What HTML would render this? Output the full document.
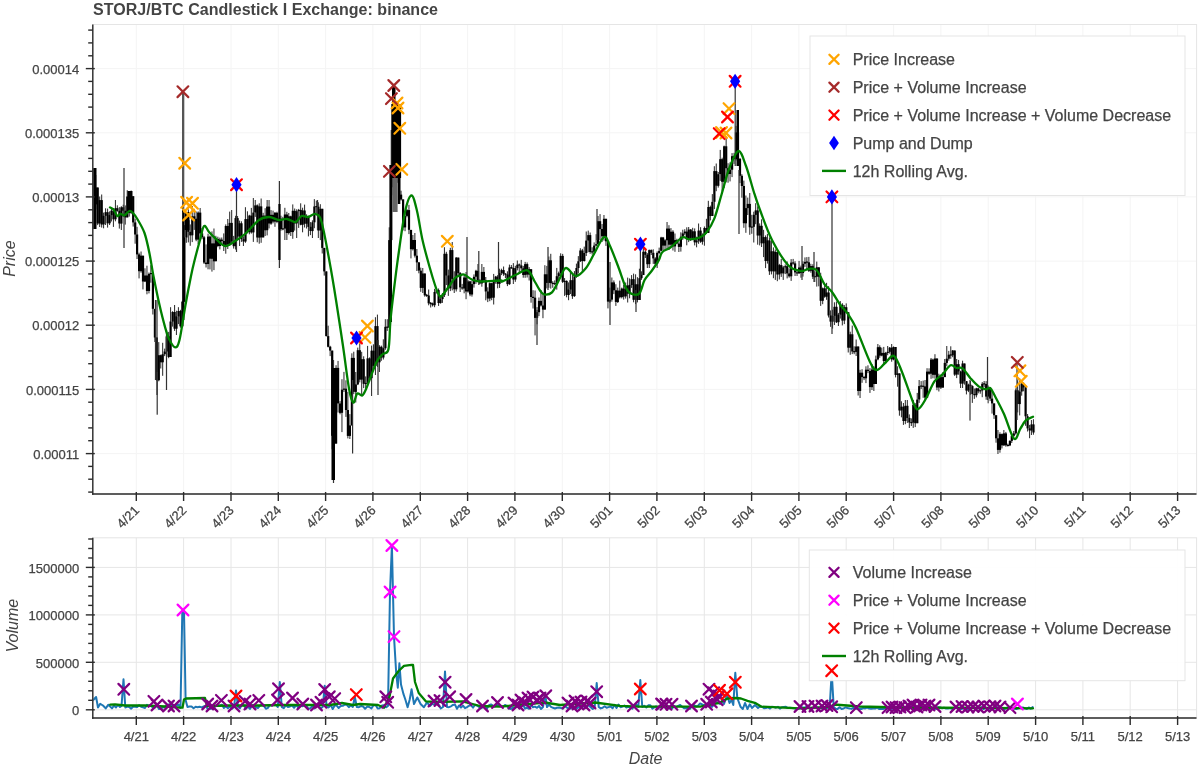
<!DOCTYPE html><html><head><meta charset="utf-8"><style>html,body{margin:0;padding:0;background:#fff;}svg{display:block;will-change:transform;filter:blur(0.3px)}</style></head><body>
<svg width="1200" height="767" viewBox="0 0 1200 767">
<rect width="1200" height="767" fill="#fff"/>
<text x="93" y="14.8" font-family="&quot;Liberation Sans&quot;, sans-serif" font-weight="bold" font-size="16" letter-spacing="0.03" fill="#444">STORJ/BTC Candlestick I Exchange: binance</text>
<g stroke="#f4f4f4" stroke-width="1">
<line x1="136.3" y1="24.5" x2="136.3" y2="494"/>
<line x1="183.6" y1="24.5" x2="183.6" y2="494"/>
<line x1="231" y1="24.5" x2="231" y2="494"/>
<line x1="278.3" y1="24.5" x2="278.3" y2="494"/>
<line x1="325.6" y1="24.5" x2="325.6" y2="494"/>
<line x1="372.9" y1="24.5" x2="372.9" y2="494"/>
<line x1="420.3" y1="24.5" x2="420.3" y2="494"/>
<line x1="467.6" y1="24.5" x2="467.6" y2="494"/>
<line x1="514.9" y1="24.5" x2="514.9" y2="494"/>
<line x1="562.3" y1="24.5" x2="562.3" y2="494"/>
<line x1="609.6" y1="24.5" x2="609.6" y2="494"/>
<line x1="656.9" y1="24.5" x2="656.9" y2="494"/>
<line x1="704.3" y1="24.5" x2="704.3" y2="494"/>
<line x1="751.6" y1="24.5" x2="751.6" y2="494"/>
<line x1="798.9" y1="24.5" x2="798.9" y2="494"/>
<line x1="846.2" y1="24.5" x2="846.2" y2="494"/>
<line x1="893.6" y1="24.5" x2="893.6" y2="494"/>
<line x1="940.9" y1="24.5" x2="940.9" y2="494"/>
<line x1="988.2" y1="24.5" x2="988.2" y2="494"/>
<line x1="1035.6" y1="24.5" x2="1035.6" y2="494"/>
<line x1="1082.9" y1="24.5" x2="1082.9" y2="494"/>
<line x1="1130.2" y1="24.5" x2="1130.2" y2="494"/>
<line x1="1177.6" y1="24.5" x2="1177.6" y2="494"/>
<line x1="92.8" y1="68.6" x2="1196.5" y2="68.6"/>
<line x1="92.8" y1="132.8" x2="1196.5" y2="132.8"/>
<line x1="92.8" y1="196.9" x2="1196.5" y2="196.9"/>
<line x1="92.8" y1="261.1" x2="1196.5" y2="261.1"/>
<line x1="92.8" y1="325.2" x2="1196.5" y2="325.2"/>
<line x1="92.8" y1="389.4" x2="1196.5" y2="389.4"/>
<line x1="92.8" y1="453.6" x2="1196.5" y2="453.6"/>
</g>
<g id="candles">
<rect x="93.2" y="200.8" width="1.1" height="8.1" fill="#3a3a3a"/>
<rect x="95.2" y="175" width="1.1" height="34.4" fill="#3a3a3a"/>
<rect x="97.1" y="187.5" width="1.1" height="37.6" fill="#3a3a3a"/>
<rect x="99.1" y="196.5" width="1.1" height="30.5" fill="#3a3a3a"/>
<rect x="101.1" y="194.5" width="1.1" height="33.1" fill="#3a3a3a"/>
<rect x="103" y="212.6" width="1.1" height="15.7" fill="#3a3a3a"/>
<rect x="105" y="208.3" width="1.1" height="16.7" fill="#3a3a3a"/>
<rect x="107" y="208.6" width="1.1" height="19" fill="#3a3a3a"/>
<rect x="109" y="211.4" width="1.1" height="13.6" fill="#3a3a3a"/>
<rect x="110.9" y="207.6" width="1.1" height="13.9" fill="#3a3a3a"/>
<rect x="112.9" y="208.1" width="1.1" height="18.8" fill="#3a3a3a"/>
<rect x="114.9" y="200" width="1.1" height="21.3" fill="#3a3a3a"/>
<rect x="116.8" y="205.3" width="1.1" height="6.4" fill="#3a3a3a"/>
<rect x="118.8" y="207.1" width="1.1" height="21.5" fill="#3a3a3a"/>
<rect x="120.8" y="206.2" width="1.1" height="23.8" fill="#3a3a3a"/>
<rect x="122.7" y="204.7" width="1.1" height="12.3" fill="#3a3a3a"/>
<rect x="124.7" y="205.4" width="1.1" height="19.2" fill="#3a3a3a"/>
<rect x="126.7" y="190.2" width="1.1" height="27.2" fill="#3a3a3a"/>
<rect x="128.7" y="194.4" width="1.1" height="22.2" fill="#3a3a3a"/>
<rect x="130.6" y="190.5" width="1.1" height="23.6" fill="#3a3a3a"/>
<rect x="132.6" y="196.2" width="1.1" height="30.4" fill="#3a3a3a"/>
<rect x="134.6" y="218.7" width="1.1" height="25" fill="#3a3a3a"/>
<rect x="136.5" y="226.8" width="1.1" height="32.2" fill="#3a3a3a"/>
<rect x="138.5" y="252.7" width="1.1" height="25.7" fill="#3a3a3a"/>
<rect x="140.5" y="251.5" width="1.1" height="21.2" fill="#3a3a3a"/>
<rect x="142.4" y="255.7" width="1.1" height="33.7" fill="#3a3a3a"/>
<rect x="144.4" y="268.3" width="1.1" height="13.8" fill="#3a3a3a"/>
<rect x="146.4" y="265.7" width="1.1" height="28.6" fill="#3a3a3a"/>
<rect x="148.4" y="272.5" width="1.1" height="20.9" fill="#3a3a3a"/>
<rect x="150.3" y="265.2" width="1.1" height="17.5" fill="#3a3a3a"/>
<rect x="152.3" y="273.3" width="1.1" height="41.2" fill="#3a3a3a"/>
<rect x="154.3" y="308.9" width="1.1" height="33.1" fill="#3a3a3a"/>
<rect x="156.2" y="337.5" width="1.1" height="43.2" fill="#3a3a3a"/>
<rect x="158.2" y="342.1" width="1.1" height="39.2" fill="#3a3a3a"/>
<rect x="160.2" y="354.6" width="1.1" height="13.9" fill="#3a3a3a"/>
<rect x="162.1" y="342.8" width="1.1" height="33" fill="#3a3a3a"/>
<rect x="164.1" y="348.6" width="1.1" height="7.5" fill="#3a3a3a"/>
<rect x="166.1" y="334" width="1.1" height="21.5" fill="#3a3a3a"/>
<rect x="168.1" y="331.9" width="1.1" height="26.3" fill="#3a3a3a"/>
<rect x="170" y="307.2" width="1.1" height="49.8" fill="#3a3a3a"/>
<rect x="172" y="311.2" width="1.1" height="15.4" fill="#3a3a3a"/>
<rect x="174" y="305" width="1.1" height="25.9" fill="#3a3a3a"/>
<rect x="175.9" y="310.7" width="1.1" height="24.3" fill="#3a3a3a"/>
<rect x="177.9" y="307.2" width="1.1" height="16.9" fill="#3a3a3a"/>
<rect x="179.9" y="309.8" width="1.1" height="17.9" fill="#3a3a3a"/>
<rect x="181.8" y="300.8" width="1.1" height="25.6" fill="#3a3a3a"/>
<rect x="183.8" y="225.1" width="1.1" height="76.6" fill="#3a3a3a"/>
<rect x="185.8" y="218.8" width="1.1" height="24" fill="#3a3a3a"/>
<rect x="187.8" y="209.4" width="1.1" height="33" fill="#3a3a3a"/>
<rect x="189.7" y="224.4" width="1.1" height="21.4" fill="#3a3a3a"/>
<rect x="191.7" y="206" width="1.1" height="36.1" fill="#3a3a3a"/>
<rect x="193.7" y="210.7" width="1.1" height="19.2" fill="#3a3a3a"/>
<rect x="195.6" y="211.5" width="1.1" height="29.7" fill="#3a3a3a"/>
<rect x="197.6" y="211.4" width="1.1" height="32.7" fill="#3a3a3a"/>
<rect x="199.6" y="208" width="1.1" height="32.8" fill="#3a3a3a"/>
<rect x="201.5" y="228" width="1.1" height="11.2" fill="#3a3a3a"/>
<rect x="203.5" y="235.9" width="1.1" height="28.1" fill="#3a3a3a"/>
<rect x="205.5" y="244.4" width="1.1" height="23.1" fill="#3a3a3a"/>
<rect x="207.5" y="233.7" width="1.1" height="35.6" fill="#3a3a3a"/>
<rect x="209.4" y="235.5" width="1.1" height="33.9" fill="#3a3a3a"/>
<rect x="211.4" y="231.4" width="1.1" height="40.2" fill="#3a3a3a"/>
<rect x="213.4" y="228.5" width="1.1" height="41.6" fill="#3a3a3a"/>
<rect x="215.3" y="235.8" width="1.1" height="25.5" fill="#3a3a3a"/>
<rect x="217.3" y="236.7" width="1.1" height="10.5" fill="#3a3a3a"/>
<rect x="219.3" y="237.6" width="1.1" height="11.8" fill="#3a3a3a"/>
<rect x="221.2" y="237.5" width="1.1" height="7" fill="#3a3a3a"/>
<rect x="223.2" y="233.4" width="1.1" height="17.6" fill="#3a3a3a"/>
<rect x="225.2" y="224.4" width="1.1" height="29.3" fill="#3a3a3a"/>
<rect x="227.2" y="219" width="1.1" height="30" fill="#3a3a3a"/>
<rect x="229.1" y="211.6" width="1.1" height="34.3" fill="#3a3a3a"/>
<rect x="231.1" y="210" width="1.1" height="34.3" fill="#3a3a3a"/>
<rect x="233.1" y="235.9" width="1.1" height="12.7" fill="#3a3a3a"/>
<rect x="235" y="215.8" width="1.1" height="33.7" fill="#3a3a3a"/>
<rect x="237" y="216" width="1.1" height="22.7" fill="#3a3a3a"/>
<rect x="239" y="220.6" width="1.1" height="25.4" fill="#3a3a3a"/>
<rect x="240.9" y="221.3" width="1.1" height="20.6" fill="#3a3a3a"/>
<rect x="242.9" y="236.4" width="1.1" height="9.6" fill="#3a3a3a"/>
<rect x="244.9" y="207.2" width="1.1" height="35.6" fill="#3a3a3a"/>
<rect x="246.9" y="211.3" width="1.1" height="22.1" fill="#3a3a3a"/>
<rect x="248.8" y="214.8" width="1.1" height="19.5" fill="#3a3a3a"/>
<rect x="250.8" y="207.9" width="1.1" height="25.7" fill="#3a3a3a"/>
<rect x="252.8" y="198" width="1.1" height="43.9" fill="#3a3a3a"/>
<rect x="254.7" y="200" width="1.1" height="16.9" fill="#3a3a3a"/>
<rect x="256.7" y="204.4" width="1.1" height="37.9" fill="#3a3a3a"/>
<rect x="258.7" y="203.3" width="1.1" height="40.4" fill="#3a3a3a"/>
<rect x="260.6" y="198.5" width="1.1" height="44.3" fill="#3a3a3a"/>
<rect x="262.6" y="212.8" width="1.1" height="24.6" fill="#3a3a3a"/>
<rect x="264.6" y="208.2" width="1.1" height="27.8" fill="#3a3a3a"/>
<rect x="266.6" y="200" width="1.1" height="35.4" fill="#3a3a3a"/>
<rect x="268.5" y="200" width="1.1" height="28.4" fill="#3a3a3a"/>
<rect x="270.5" y="210.1" width="1.1" height="14.7" fill="#3a3a3a"/>
<rect x="272.5" y="210.6" width="1.1" height="12.7" fill="#3a3a3a"/>
<rect x="274.4" y="212" width="1.1" height="14.8" fill="#3a3a3a"/>
<rect x="276.4" y="211.7" width="1.1" height="11.5" fill="#3a3a3a"/>
<rect x="278.4" y="217.4" width="1.1" height="12.2" fill="#3a3a3a"/>
<rect x="280.4" y="215.7" width="1.1" height="15" fill="#3a3a3a"/>
<rect x="282.3" y="216.8" width="1.1" height="13.5" fill="#3a3a3a"/>
<rect x="284.3" y="207.8" width="1.1" height="32.2" fill="#3a3a3a"/>
<rect x="286.3" y="211.8" width="1.1" height="28.2" fill="#3a3a3a"/>
<rect x="288.2" y="213" width="1.1" height="21.6" fill="#3a3a3a"/>
<rect x="290.2" y="215.7" width="1.1" height="20.3" fill="#3a3a3a"/>
<rect x="292.2" y="204.4" width="1.1" height="34.4" fill="#3a3a3a"/>
<rect x="294.1" y="208.5" width="1.1" height="22.1" fill="#3a3a3a"/>
<rect x="296.1" y="209.3" width="1.1" height="28.7" fill="#3a3a3a"/>
<rect x="298.1" y="208.9" width="1.1" height="19" fill="#3a3a3a"/>
<rect x="300.1" y="203.3" width="1.1" height="22" fill="#3a3a3a"/>
<rect x="302" y="207.7" width="1.1" height="24.6" fill="#3a3a3a"/>
<rect x="304" y="204.6" width="1.1" height="22.9" fill="#3a3a3a"/>
<rect x="306" y="214.3" width="1.1" height="14.2" fill="#3a3a3a"/>
<rect x="307.9" y="215.7" width="1.1" height="20.7" fill="#3a3a3a"/>
<rect x="309.9" y="222.1" width="1.1" height="13" fill="#3a3a3a"/>
<rect x="311.9" y="220.3" width="1.1" height="17.7" fill="#3a3a3a"/>
<rect x="313.8" y="199.1" width="1.1" height="29.1" fill="#3a3a3a"/>
<rect x="315.8" y="200.6" width="1.1" height="12.9" fill="#3a3a3a"/>
<rect x="317.8" y="202.3" width="1.1" height="35.7" fill="#3a3a3a"/>
<rect x="319.8" y="204.2" width="1.1" height="35.9" fill="#3a3a3a"/>
<rect x="321.7" y="208.8" width="1.1" height="44.7" fill="#3a3a3a"/>
<rect x="323.7" y="247.9" width="1.1" height="27.7" fill="#3a3a3a"/>
<rect x="325.7" y="271.4" width="1.1" height="65.2" fill="#3a3a3a"/>
<rect x="327.6" y="325.7" width="1.1" height="21.7" fill="#3a3a3a"/>
<rect x="329.6" y="345.8" width="1.1" height="10.3" fill="#3a3a3a"/>
<rect x="331.6" y="350.6" width="1.1" height="98.7" fill="#3a3a3a"/>
<rect x="333.5" y="418.4" width="1.1" height="26.4" fill="#3a3a3a"/>
<rect x="335.5" y="365.2" width="1.1" height="78.5" fill="#3a3a3a"/>
<rect x="337.5" y="360.9" width="1.1" height="51.6" fill="#3a3a3a"/>
<rect x="339.5" y="401.1" width="1.1" height="13.2" fill="#3a3a3a"/>
<rect x="341.4" y="379.2" width="1.1" height="52.9" fill="#3a3a3a"/>
<rect x="343.4" y="371.9" width="1.1" height="20.1" fill="#3a3a3a"/>
<rect x="345.4" y="380.3" width="1.1" height="36.6" fill="#3a3a3a"/>
<rect x="347.3" y="391.9" width="1.1" height="46.5" fill="#3a3a3a"/>
<rect x="349.3" y="414.1" width="1.1" height="24.9" fill="#3a3a3a"/>
<rect x="351.3" y="353.3" width="1.1" height="72.2" fill="#3a3a3a"/>
<rect x="353.2" y="351.7" width="1.1" height="42.4" fill="#3a3a3a"/>
<rect x="355.2" y="372" width="1.1" height="30.5" fill="#3a3a3a"/>
<rect x="357.2" y="347.6" width="1.1" height="37.5" fill="#3a3a3a"/>
<rect x="359.2" y="342.4" width="1.1" height="40" fill="#3a3a3a"/>
<rect x="361.1" y="351.8" width="1.1" height="44" fill="#3a3a3a"/>
<rect x="363.1" y="356.3" width="1.1" height="31.8" fill="#3a3a3a"/>
<rect x="365.1" y="376.4" width="1.1" height="12.5" fill="#3a3a3a"/>
<rect x="367" y="345.9" width="1.1" height="37.8" fill="#3a3a3a"/>
<rect x="369" y="357.4" width="1.1" height="24.1" fill="#3a3a3a"/>
<rect x="371" y="345.6" width="1.1" height="50.4" fill="#3a3a3a"/>
<rect x="372.9" y="344.3" width="1.1" height="22.5" fill="#3a3a3a"/>
<rect x="374.9" y="317.2" width="1.1" height="57.8" fill="#3a3a3a"/>
<rect x="376.9" y="314.6" width="1.1" height="52.4" fill="#3a3a3a"/>
<rect x="378.9" y="345.2" width="1.1" height="26.8" fill="#3a3a3a"/>
<rect x="380.8" y="345.6" width="1.1" height="15.2" fill="#3a3a3a"/>
<rect x="382.8" y="339.3" width="1.1" height="20.2" fill="#3a3a3a"/>
<rect x="384.8" y="319.2" width="1.1" height="30.6" fill="#3a3a3a"/>
<rect x="386.7" y="319.2" width="1.1" height="11.7" fill="#3a3a3a"/>
<rect x="388.7" y="227.3" width="1.1" height="100.3" fill="#3a3a3a"/>
<rect x="390.7" y="130" width="1.1" height="110.1" fill="#3a3a3a"/>
<rect x="392.6" y="142.8" width="1.1" height="52.5" fill="#3a3a3a"/>
<rect x="394.6" y="144.6" width="1.1" height="36.6" fill="#3a3a3a"/>
<rect x="396.6" y="139.5" width="1.1" height="43.3" fill="#3a3a3a"/>
<rect x="398.6" y="140.1" width="1.1" height="61.4" fill="#3a3a3a"/>
<rect x="400.5" y="190.7" width="1.1" height="9.9" fill="#3a3a3a"/>
<rect x="402.5" y="199.4" width="1.1" height="31.1" fill="#3a3a3a"/>
<rect x="404.5" y="211" width="1.1" height="20.2" fill="#3a3a3a"/>
<rect x="406.4" y="208.9" width="1.1" height="8.4" fill="#3a3a3a"/>
<rect x="408.4" y="204.8" width="1.1" height="29.3" fill="#3a3a3a"/>
<rect x="410.4" y="229.9" width="1.1" height="28.5" fill="#3a3a3a"/>
<rect x="412.3" y="235" width="1.1" height="15.5" fill="#3a3a3a"/>
<rect x="414.3" y="233" width="1.1" height="24.5" fill="#3a3a3a"/>
<rect x="416.3" y="249" width="1.1" height="22" fill="#3a3a3a"/>
<rect x="418.3" y="262" width="1.1" height="11.3" fill="#3a3a3a"/>
<rect x="420.2" y="267.6" width="1.1" height="24.2" fill="#3a3a3a"/>
<rect x="422.2" y="268" width="1.1" height="25" fill="#3a3a3a"/>
<rect x="424.2" y="273.5" width="1.1" height="23.2" fill="#3a3a3a"/>
<rect x="426.1" y="293.9" width="1.1" height="3" fill="#3a3a3a"/>
<rect x="428.1" y="289.5" width="1.1" height="15.8" fill="#3a3a3a"/>
<rect x="430.1" y="302" width="1.1" height="5.5" fill="#3a3a3a"/>
<rect x="432" y="302.6" width="1.1" height="3.9" fill="#3a3a3a"/>
<rect x="434" y="288.8" width="1.1" height="18.4" fill="#3a3a3a"/>
<rect x="436" y="289.4" width="1.1" height="4.1" fill="#3a3a3a"/>
<rect x="438" y="288.5" width="1.1" height="17.4" fill="#3a3a3a"/>
<rect x="439.9" y="295.3" width="1.1" height="8.3" fill="#3a3a3a"/>
<rect x="441.9" y="293" width="1.1" height="9.9" fill="#3a3a3a"/>
<rect x="443.9" y="247.2" width="1.1" height="49.8" fill="#3a3a3a"/>
<rect x="445.8" y="251.8" width="1.1" height="33.2" fill="#3a3a3a"/>
<rect x="447.8" y="269.6" width="1.1" height="26.3" fill="#3a3a3a"/>
<rect x="449.8" y="247.8" width="1.1" height="43.3" fill="#3a3a3a"/>
<rect x="451.7" y="242" width="1.1" height="48.4" fill="#3a3a3a"/>
<rect x="453.7" y="271.3" width="1.1" height="21.7" fill="#3a3a3a"/>
<rect x="455.7" y="257.1" width="1.1" height="34.4" fill="#3a3a3a"/>
<rect x="457.7" y="257.6" width="1.1" height="19.3" fill="#3a3a3a"/>
<rect x="459.6" y="272" width="1.1" height="20" fill="#3a3a3a"/>
<rect x="461.6" y="283.9" width="1.1" height="5.9" fill="#3a3a3a"/>
<rect x="463.6" y="274.9" width="1.1" height="18.4" fill="#3a3a3a"/>
<rect x="465.5" y="272" width="1.1" height="27.2" fill="#3a3a3a"/>
<rect x="467.5" y="280.1" width="1.1" height="12.6" fill="#3a3a3a"/>
<rect x="469.5" y="280.8" width="1.1" height="15.4" fill="#3a3a3a"/>
<rect x="471.4" y="280.5" width="1.1" height="16.1" fill="#3a3a3a"/>
<rect x="473.4" y="274.4" width="1.1" height="13.2" fill="#3a3a3a"/>
<rect x="475.4" y="269.8" width="1.1" height="14" fill="#3a3a3a"/>
<rect x="477.4" y="264" width="1.1" height="17.2" fill="#3a3a3a"/>
<rect x="479.3" y="279.2" width="1.1" height="5.1" fill="#3a3a3a"/>
<rect x="481.3" y="264" width="1.1" height="22.7" fill="#3a3a3a"/>
<rect x="483.3" y="267" width="1.1" height="15.9" fill="#3a3a3a"/>
<rect x="485.2" y="277" width="1.1" height="23.3" fill="#3a3a3a"/>
<rect x="487.2" y="287.3" width="1.1" height="14.8" fill="#3a3a3a"/>
<rect x="489.2" y="282.3" width="1.1" height="18.9" fill="#3a3a3a"/>
<rect x="491.1" y="282.7" width="1.1" height="17.5" fill="#3a3a3a"/>
<rect x="493.1" y="273.9" width="1.1" height="30.6" fill="#3a3a3a"/>
<rect x="495.1" y="275.9" width="1.1" height="7.8" fill="#3a3a3a"/>
<rect x="497.1" y="275.1" width="1.1" height="13.2" fill="#3a3a3a"/>
<rect x="499" y="268.7" width="1.1" height="19.2" fill="#3a3a3a"/>
<rect x="501" y="268.7" width="1.1" height="6.4" fill="#3a3a3a"/>
<rect x="503" y="266.5" width="1.1" height="9.3" fill="#3a3a3a"/>
<rect x="504.9" y="273.1" width="1.1" height="4.9" fill="#3a3a3a"/>
<rect x="506.9" y="271.3" width="1.1" height="14.8" fill="#3a3a3a"/>
<rect x="508.9" y="264.6" width="1.1" height="20.2" fill="#3a3a3a"/>
<rect x="510.8" y="265" width="1.1" height="3.9" fill="#3a3a3a"/>
<rect x="512.8" y="263.1" width="1.1" height="20.9" fill="#3a3a3a"/>
<rect x="514.8" y="265.8" width="1.1" height="16" fill="#3a3a3a"/>
<rect x="516.8" y="260.5" width="1.1" height="9.9" fill="#3a3a3a"/>
<rect x="518.7" y="263.5" width="1.1" height="10.1" fill="#3a3a3a"/>
<rect x="520.7" y="259.9" width="1.1" height="12.2" fill="#3a3a3a"/>
<rect x="522.7" y="265.9" width="1.1" height="11.8" fill="#3a3a3a"/>
<rect x="524.6" y="261.9" width="1.1" height="15.9" fill="#3a3a3a"/>
<rect x="526.6" y="262.4" width="1.1" height="15.1" fill="#3a3a3a"/>
<rect x="528.6" y="267.1" width="1.1" height="13.4" fill="#3a3a3a"/>
<rect x="530.5" y="269.2" width="1.1" height="33.5" fill="#3a3a3a"/>
<rect x="532.5" y="290.2" width="1.1" height="18.3" fill="#3a3a3a"/>
<rect x="534.5" y="290.5" width="1.1" height="44.9" fill="#3a3a3a"/>
<rect x="536.5" y="307.1" width="1.1" height="17.2" fill="#3a3a3a"/>
<rect x="538.4" y="297.5" width="1.1" height="18.6" fill="#3a3a3a"/>
<rect x="540.4" y="290" width="1.1" height="16.5" fill="#3a3a3a"/>
<rect x="542.4" y="292.9" width="1.1" height="25.3" fill="#3a3a3a"/>
<rect x="544.3" y="265.2" width="1.1" height="44.4" fill="#3a3a3a"/>
<rect x="546.3" y="265.9" width="1.1" height="22.5" fill="#3a3a3a"/>
<rect x="548.3" y="256.5" width="1.1" height="31.3" fill="#3a3a3a"/>
<rect x="550.2" y="253.8" width="1.1" height="34.8" fill="#3a3a3a"/>
<rect x="552.2" y="281.2" width="1.1" height="6.6" fill="#3a3a3a"/>
<rect x="554.2" y="280.4" width="1.1" height="4.7" fill="#3a3a3a"/>
<rect x="556.2" y="267.9" width="1.1" height="21.7" fill="#3a3a3a"/>
<rect x="558.1" y="271.6" width="1.1" height="9.7" fill="#3a3a3a"/>
<rect x="560.1" y="253.3" width="1.1" height="24.1" fill="#3a3a3a"/>
<rect x="562.1" y="253.9" width="1.1" height="29.1" fill="#3a3a3a"/>
<rect x="564" y="278.1" width="1.1" height="17.8" fill="#3a3a3a"/>
<rect x="566" y="280.4" width="1.1" height="16.9" fill="#3a3a3a"/>
<rect x="568" y="282.4" width="1.1" height="17.8" fill="#3a3a3a"/>
<rect x="569.9" y="272.3" width="1.1" height="21.7" fill="#3a3a3a"/>
<rect x="571.9" y="273.2" width="1.1" height="25.7" fill="#3a3a3a"/>
<rect x="573.9" y="271.1" width="1.1" height="25.8" fill="#3a3a3a"/>
<rect x="575.9" y="263.6" width="1.1" height="14.2" fill="#3a3a3a"/>
<rect x="577.8" y="256.1" width="1.1" height="17.3" fill="#3a3a3a"/>
<rect x="579.8" y="248.2" width="1.1" height="13.8" fill="#3a3a3a"/>
<rect x="581.8" y="248.9" width="1.1" height="23.7" fill="#3a3a3a"/>
<rect x="583.7" y="246.6" width="1.1" height="15" fill="#3a3a3a"/>
<rect x="585.7" y="231.5" width="1.1" height="24.5" fill="#3a3a3a"/>
<rect x="587.7" y="230.6" width="1.1" height="21.6" fill="#3a3a3a"/>
<rect x="589.6" y="232.5" width="1.1" height="21.3" fill="#3a3a3a"/>
<rect x="591.6" y="247.3" width="1.1" height="7.3" fill="#3a3a3a"/>
<rect x="593.6" y="242.4" width="1.1" height="11.9" fill="#3a3a3a"/>
<rect x="595.6" y="234.2" width="1.1" height="12.1" fill="#3a3a3a"/>
<rect x="597.5" y="216" width="1.1" height="28.2" fill="#3a3a3a"/>
<rect x="599.5" y="214.1" width="1.1" height="25.9" fill="#3a3a3a"/>
<rect x="601.5" y="224" width="1.1" height="18" fill="#3a3a3a"/>
<rect x="603.4" y="215" width="1.1" height="25.6" fill="#3a3a3a"/>
<rect x="605.4" y="218.8" width="1.1" height="27.1" fill="#3a3a3a"/>
<rect x="607.4" y="241.2" width="1.1" height="67.2" fill="#3a3a3a"/>
<rect x="609.3" y="287.6" width="1.1" height="15.2" fill="#3a3a3a"/>
<rect x="611.3" y="277.5" width="1.1" height="24.2" fill="#3a3a3a"/>
<rect x="613.3" y="280.4" width="1.1" height="13.7" fill="#3a3a3a"/>
<rect x="615.3" y="284.2" width="1.1" height="21.7" fill="#3a3a3a"/>
<rect x="617.2" y="287.6" width="1.1" height="15.4" fill="#3a3a3a"/>
<rect x="619.2" y="280.6" width="1.1" height="17.8" fill="#3a3a3a"/>
<rect x="621.2" y="287.6" width="1.1" height="10.8" fill="#3a3a3a"/>
<rect x="623.1" y="284.8" width="1.1" height="14.8" fill="#3a3a3a"/>
<rect x="625.1" y="282.5" width="1.1" height="16.1" fill="#3a3a3a"/>
<rect x="627.1" y="277.6" width="1.1" height="24.9" fill="#3a3a3a"/>
<rect x="629" y="278.4" width="1.1" height="19.9" fill="#3a3a3a"/>
<rect x="631" y="275.1" width="1.1" height="12.8" fill="#3a3a3a"/>
<rect x="633" y="273.6" width="1.1" height="28.7" fill="#3a3a3a"/>
<rect x="635" y="274.3" width="1.1" height="29.8" fill="#3a3a3a"/>
<rect x="636.9" y="277.2" width="1.1" height="25.2" fill="#3a3a3a"/>
<rect x="638.9" y="268.7" width="1.1" height="31.3" fill="#3a3a3a"/>
<rect x="640.9" y="271.3" width="1.1" height="8.6" fill="#3a3a3a"/>
<rect x="642.8" y="246.2" width="1.1" height="28.7" fill="#3a3a3a"/>
<rect x="644.8" y="250.2" width="1.1" height="7.8" fill="#3a3a3a"/>
<rect x="646.8" y="253.1" width="1.1" height="14.9" fill="#3a3a3a"/>
<rect x="648.7" y="249.5" width="1.1" height="18.5" fill="#3a3a3a"/>
<rect x="650.7" y="249.4" width="1.1" height="5.6" fill="#3a3a3a"/>
<rect x="652.7" y="249.3" width="1.1" height="14.6" fill="#3a3a3a"/>
<rect x="654.7" y="257.2" width="1.1" height="9.8" fill="#3a3a3a"/>
<rect x="656.6" y="251.4" width="1.1" height="16.6" fill="#3a3a3a"/>
<rect x="658.6" y="247.6" width="1.1" height="6.5" fill="#3a3a3a"/>
<rect x="660.6" y="236.8" width="1.1" height="14.1" fill="#3a3a3a"/>
<rect x="662.5" y="236.9" width="1.1" height="13.1" fill="#3a3a3a"/>
<rect x="664.5" y="239.1" width="1.1" height="10.9" fill="#3a3a3a"/>
<rect x="666.5" y="222" width="1.1" height="28" fill="#3a3a3a"/>
<rect x="668.4" y="225.2" width="1.1" height="24.8" fill="#3a3a3a"/>
<rect x="670.4" y="228.1" width="1.1" height="18.6" fill="#3a3a3a"/>
<rect x="672.4" y="230.2" width="1.1" height="20.3" fill="#3a3a3a"/>
<rect x="674.4" y="233.5" width="1.1" height="18.3" fill="#3a3a3a"/>
<rect x="676.3" y="238.7" width="1.1" height="5.6" fill="#3a3a3a"/>
<rect x="678.3" y="241.3" width="1.1" height="10.7" fill="#3a3a3a"/>
<rect x="680.3" y="232.3" width="1.1" height="19.3" fill="#3a3a3a"/>
<rect x="682.2" y="229.7" width="1.1" height="10.2" fill="#3a3a3a"/>
<rect x="684.2" y="229.2" width="1.1" height="6.1" fill="#3a3a3a"/>
<rect x="686.2" y="227.3" width="1.1" height="18" fill="#3a3a3a"/>
<rect x="688.1" y="227" width="1.1" height="15.1" fill="#3a3a3a"/>
<rect x="690.1" y="229" width="1.1" height="12" fill="#3a3a3a"/>
<rect x="692.1" y="227.8" width="1.1" height="11" fill="#3a3a3a"/>
<rect x="694.1" y="228.4" width="1.1" height="17" fill="#3a3a3a"/>
<rect x="696" y="236.7" width="1.1" height="10.6" fill="#3a3a3a"/>
<rect x="698" y="223.5" width="1.1" height="20.3" fill="#3a3a3a"/>
<rect x="700" y="227.2" width="1.1" height="15.6" fill="#3a3a3a"/>
<rect x="701.9" y="233.4" width="1.1" height="11.2" fill="#3a3a3a"/>
<rect x="703.9" y="226.5" width="1.1" height="19.2" fill="#3a3a3a"/>
<rect x="705.9" y="218.8" width="1.1" height="15" fill="#3a3a3a"/>
<rect x="707.8" y="200.8" width="1.1" height="32.1" fill="#3a3a3a"/>
<rect x="709.8" y="205.6" width="1.1" height="14.8" fill="#3a3a3a"/>
<rect x="711.8" y="194.1" width="1.1" height="21.8" fill="#3a3a3a"/>
<rect x="713.8" y="166.2" width="1.1" height="42.9" fill="#3a3a3a"/>
<rect x="715.7" y="163.5" width="1.1" height="27.7" fill="#3a3a3a"/>
<rect x="717.7" y="172" width="1.1" height="15.6" fill="#3a3a3a"/>
<rect x="719.7" y="149.9" width="1.1" height="31" fill="#3a3a3a"/>
<rect x="721.6" y="157.7" width="1.1" height="33.8" fill="#3a3a3a"/>
<rect x="723.6" y="145.6" width="1.1" height="42.3" fill="#3a3a3a"/>
<rect x="725.6" y="136.5" width="1.1" height="45.9" fill="#3a3a3a"/>
<rect x="727.5" y="163.2" width="1.1" height="19.5" fill="#3a3a3a"/>
<rect x="729.5" y="162.3" width="1.1" height="19.1" fill="#3a3a3a"/>
<rect x="731.5" y="153.1" width="1.1" height="24" fill="#3a3a3a"/>
<rect x="733.5" y="152.8" width="1.1" height="11.1" fill="#3a3a3a"/>
<rect x="735.4" y="125.9" width="1.1" height="34.6" fill="#3a3a3a"/>
<rect x="737.4" y="111.5" width="1.1" height="50.9" fill="#3a3a3a"/>
<rect x="739.4" y="158.6" width="1.1" height="24.5" fill="#3a3a3a"/>
<rect x="741.3" y="174.2" width="1.1" height="23.5" fill="#3a3a3a"/>
<rect x="743.3" y="180.6" width="1.1" height="47.2" fill="#3a3a3a"/>
<rect x="745.3" y="195.5" width="1.1" height="37.3" fill="#3a3a3a"/>
<rect x="747.2" y="197.6" width="1.1" height="17.4" fill="#3a3a3a"/>
<rect x="749.2" y="193" width="1.1" height="41.8" fill="#3a3a3a"/>
<rect x="751.2" y="214.8" width="1.1" height="19" fill="#3a3a3a"/>
<rect x="753.2" y="211.7" width="1.1" height="30.8" fill="#3a3a3a"/>
<rect x="755.1" y="203.2" width="1.1" height="21" fill="#3a3a3a"/>
<rect x="757.1" y="206.3" width="1.1" height="38.4" fill="#3a3a3a"/>
<rect x="759.1" y="223.4" width="1.1" height="22" fill="#3a3a3a"/>
<rect x="761" y="219.3" width="1.1" height="27.7" fill="#3a3a3a"/>
<rect x="763" y="229.8" width="1.1" height="27.3" fill="#3a3a3a"/>
<rect x="765" y="235.4" width="1.1" height="32.7" fill="#3a3a3a"/>
<rect x="766.9" y="233.9" width="1.1" height="29.7" fill="#3a3a3a"/>
<rect x="768.9" y="237.4" width="1.1" height="37.5" fill="#3a3a3a"/>
<rect x="770.9" y="241" width="1.1" height="33.4" fill="#3a3a3a"/>
<rect x="772.9" y="247.4" width="1.1" height="30.8" fill="#3a3a3a"/>
<rect x="774.8" y="249.4" width="1.1" height="30.5" fill="#3a3a3a"/>
<rect x="776.8" y="249.7" width="1.1" height="31.5" fill="#3a3a3a"/>
<rect x="778.8" y="263.9" width="1.1" height="15.6" fill="#3a3a3a"/>
<rect x="780.7" y="259" width="1.1" height="17.9" fill="#3a3a3a"/>
<rect x="782.7" y="265.9" width="1.1" height="14" fill="#3a3a3a"/>
<rect x="784.7" y="264.4" width="1.1" height="9.7" fill="#3a3a3a"/>
<rect x="786.6" y="261.4" width="1.1" height="17" fill="#3a3a3a"/>
<rect x="788.6" y="268.3" width="1.1" height="9.3" fill="#3a3a3a"/>
<rect x="790.6" y="259.1" width="1.1" height="21.8" fill="#3a3a3a"/>
<rect x="792.6" y="258.9" width="1.1" height="5.8" fill="#3a3a3a"/>
<rect x="794.5" y="261.2" width="1.1" height="14.8" fill="#3a3a3a"/>
<rect x="796.5" y="269.7" width="1.1" height="6.3" fill="#3a3a3a"/>
<rect x="798.5" y="260.9" width="1.1" height="13" fill="#3a3a3a"/>
<rect x="800.4" y="265.6" width="1.1" height="12.1" fill="#3a3a3a"/>
<rect x="802.4" y="261.3" width="1.1" height="15.3" fill="#3a3a3a"/>
<rect x="804.4" y="257.4" width="1.1" height="9.5" fill="#3a3a3a"/>
<rect x="806.3" y="257.1" width="1.1" height="11.9" fill="#3a3a3a"/>
<rect x="808.3" y="256.9" width="1.1" height="15.1" fill="#3a3a3a"/>
<rect x="810.3" y="263.8" width="1.1" height="8.9" fill="#3a3a3a"/>
<rect x="812.3" y="264.2" width="1.1" height="14.8" fill="#3a3a3a"/>
<rect x="814.2" y="271.3" width="1.1" height="10.7" fill="#3a3a3a"/>
<rect x="816.2" y="261.6" width="1.1" height="25" fill="#3a3a3a"/>
<rect x="818.2" y="267.3" width="1.1" height="19" fill="#3a3a3a"/>
<rect x="820.1" y="272.7" width="1.1" height="33.2" fill="#3a3a3a"/>
<rect x="822.1" y="287.5" width="1.1" height="16.7" fill="#3a3a3a"/>
<rect x="824.1" y="285.1" width="1.1" height="12.7" fill="#3a3a3a"/>
<rect x="826" y="282.8" width="1.1" height="17" fill="#3a3a3a"/>
<rect x="828" y="286.2" width="1.1" height="31.3" fill="#3a3a3a"/>
<rect x="830" y="310.4" width="1.1" height="16.4" fill="#3a3a3a"/>
<rect x="832" y="309.7" width="1.1" height="18.9" fill="#3a3a3a"/>
<rect x="833.9" y="302.3" width="1.1" height="22.7" fill="#3a3a3a"/>
<rect x="835.9" y="301.5" width="1.1" height="21.5" fill="#3a3a3a"/>
<rect x="837.9" y="312.9" width="1.1" height="13.1" fill="#3a3a3a"/>
<rect x="839.8" y="301.1" width="1.1" height="17.5" fill="#3a3a3a"/>
<rect x="841.8" y="303.2" width="1.1" height="22.2" fill="#3a3a3a"/>
<rect x="843.8" y="305.1" width="1.1" height="19" fill="#3a3a3a"/>
<rect x="845.7" y="303.4" width="1.1" height="9.4" fill="#3a3a3a"/>
<rect x="847.7" y="312.2" width="1.1" height="40.3" fill="#3a3a3a"/>
<rect x="849.7" y="331.7" width="1.1" height="23.1" fill="#3a3a3a"/>
<rect x="851.7" y="325.6" width="1.1" height="28.5" fill="#3a3a3a"/>
<rect x="853.6" y="346.3" width="1.1" height="7.9" fill="#3a3a3a"/>
<rect x="855.6" y="339.5" width="1.1" height="16.5" fill="#3a3a3a"/>
<rect x="857.6" y="346.5" width="1.1" height="49" fill="#3a3a3a"/>
<rect x="859.5" y="369.8" width="1.1" height="28.2" fill="#3a3a3a"/>
<rect x="861.5" y="369.2" width="1.1" height="13.6" fill="#3a3a3a"/>
<rect x="863.5" y="375.9" width="1.1" height="4.2" fill="#3a3a3a"/>
<rect x="865.4" y="366.3" width="1.1" height="16.8" fill="#3a3a3a"/>
<rect x="867.4" y="365.3" width="1.1" height="7.8" fill="#3a3a3a"/>
<rect x="869.4" y="368.1" width="1.1" height="24.8" fill="#3a3a3a"/>
<rect x="871.4" y="364" width="1.1" height="26" fill="#3a3a3a"/>
<rect x="873.3" y="366.3" width="1.1" height="24.7" fill="#3a3a3a"/>
<rect x="875.3" y="355.6" width="1.1" height="28.3" fill="#3a3a3a"/>
<rect x="877.3" y="344" width="1.1" height="16.3" fill="#3a3a3a"/>
<rect x="879.2" y="345.3" width="1.1" height="12.5" fill="#3a3a3a"/>
<rect x="881.2" y="347.6" width="1.1" height="8.7" fill="#3a3a3a"/>
<rect x="883.2" y="346.9" width="1.1" height="17.1" fill="#3a3a3a"/>
<rect x="885.1" y="351.9" width="1.1" height="11.9" fill="#3a3a3a"/>
<rect x="887.1" y="346" width="1.1" height="9.2" fill="#3a3a3a"/>
<rect x="889.1" y="347" width="1.1" height="6.6" fill="#3a3a3a"/>
<rect x="891.1" y="344" width="1.1" height="17.7" fill="#3a3a3a"/>
<rect x="893" y="346.4" width="1.1" height="13.9" fill="#3a3a3a"/>
<rect x="895" y="347" width="1.1" height="30.4" fill="#3a3a3a"/>
<rect x="897" y="366.3" width="1.1" height="20.4" fill="#3a3a3a"/>
<rect x="898.9" y="373.4" width="1.1" height="42.3" fill="#3a3a3a"/>
<rect x="900.9" y="401.3" width="1.1" height="16" fill="#3a3a3a"/>
<rect x="902.9" y="403" width="1.1" height="21.9" fill="#3a3a3a"/>
<rect x="904.8" y="400" width="1.1" height="24.2" fill="#3a3a3a"/>
<rect x="906.8" y="400" width="1.1" height="22.9" fill="#3a3a3a"/>
<rect x="908.8" y="414.4" width="1.1" height="13.6" fill="#3a3a3a"/>
<rect x="910.8" y="418.4" width="1.1" height="7.6" fill="#3a3a3a"/>
<rect x="912.7" y="400" width="1.1" height="27.9" fill="#3a3a3a"/>
<rect x="914.7" y="403.1" width="1.1" height="24" fill="#3a3a3a"/>
<rect x="916.7" y="392.9" width="1.1" height="30.3" fill="#3a3a3a"/>
<rect x="918.6" y="380" width="1.1" height="22.9" fill="#3a3a3a"/>
<rect x="920.6" y="381.1" width="1.1" height="7.9" fill="#3a3a3a"/>
<rect x="922.6" y="380.6" width="1.1" height="17.2" fill="#3a3a3a"/>
<rect x="924.5" y="380" width="1.1" height="21.1" fill="#3a3a3a"/>
<rect x="926.5" y="368.2" width="1.1" height="29.5" fill="#3a3a3a"/>
<rect x="928.5" y="368.3" width="1.1" height="6.5" fill="#3a3a3a"/>
<rect x="930.5" y="358" width="1.1" height="20.8" fill="#3a3a3a"/>
<rect x="932.4" y="358.7" width="1.1" height="19.6" fill="#3a3a3a"/>
<rect x="934.4" y="354.2" width="1.1" height="24.5" fill="#3a3a3a"/>
<rect x="936.4" y="358.5" width="1.1" height="31.7" fill="#3a3a3a"/>
<rect x="938.3" y="373.7" width="1.1" height="17.8" fill="#3a3a3a"/>
<rect x="940.3" y="376" width="1.1" height="13" fill="#3a3a3a"/>
<rect x="942.3" y="372.2" width="1.1" height="15.4" fill="#3a3a3a"/>
<rect x="944.2" y="359" width="1.1" height="18.1" fill="#3a3a3a"/>
<rect x="946.2" y="346" width="1.1" height="20.3" fill="#3a3a3a"/>
<rect x="948.2" y="350.9" width="1.1" height="9.8" fill="#3a3a3a"/>
<rect x="950.2" y="346.3" width="1.1" height="12.5" fill="#3a3a3a"/>
<rect x="952.1" y="350" width="1.1" height="7.2" fill="#3a3a3a"/>
<rect x="954.1" y="350.5" width="1.1" height="25.4" fill="#3a3a3a"/>
<rect x="956.1" y="359" width="1.1" height="19.1" fill="#3a3a3a"/>
<rect x="958" y="359.9" width="1.1" height="14.8" fill="#3a3a3a"/>
<rect x="960" y="370.7" width="1.1" height="17.3" fill="#3a3a3a"/>
<rect x="962" y="360.7" width="1.1" height="27.3" fill="#3a3a3a"/>
<rect x="963.9" y="363.5" width="1.1" height="21.1" fill="#3a3a3a"/>
<rect x="965.9" y="381" width="1.1" height="13.4" fill="#3a3a3a"/>
<rect x="967.9" y="383.7" width="1.1" height="8.4" fill="#3a3a3a"/>
<rect x="969.9" y="381" width="1.1" height="13.7" fill="#3a3a3a"/>
<rect x="971.8" y="385.3" width="1.1" height="17.6" fill="#3a3a3a"/>
<rect x="973.8" y="388.5" width="1.1" height="10.4" fill="#3a3a3a"/>
<rect x="975.8" y="387.8" width="1.1" height="9.6" fill="#3a3a3a"/>
<rect x="977.7" y="387.8" width="1.1" height="5.5" fill="#3a3a3a"/>
<rect x="979.7" y="389.4" width="1.1" height="4.3" fill="#3a3a3a"/>
<rect x="981.7" y="382.1" width="1.1" height="15.1" fill="#3a3a3a"/>
<rect x="983.6" y="381" width="1.1" height="6.2" fill="#3a3a3a"/>
<rect x="985.6" y="381.1" width="1.1" height="18.6" fill="#3a3a3a"/>
<rect x="987.6" y="385.5" width="1.1" height="17.8" fill="#3a3a3a"/>
<rect x="989.6" y="388.2" width="1.1" height="12.9" fill="#3a3a3a"/>
<rect x="991.5" y="390.5" width="1.1" height="23.1" fill="#3a3a3a"/>
<rect x="993.5" y="403.4" width="1.1" height="15.5" fill="#3a3a3a"/>
<rect x="995.5" y="415.2" width="1.1" height="27.5" fill="#3a3a3a"/>
<rect x="997.4" y="430" width="1.1" height="24" fill="#3a3a3a"/>
<rect x="999.4" y="432.3" width="1.1" height="20.4" fill="#3a3a3a"/>
<rect x="1001.4" y="433.5" width="1.1" height="14.9" fill="#3a3a3a"/>
<rect x="1003.3" y="430" width="1.1" height="15.9" fill="#3a3a3a"/>
<rect x="1005.3" y="431.9" width="1.1" height="14.8" fill="#3a3a3a"/>
<rect x="1007.3" y="443.6" width="1.1" height="3" fill="#3a3a3a"/>
<rect x="1009.3" y="440.3" width="1.1" height="5.8" fill="#3a3a3a"/>
<rect x="1011.2" y="433.7" width="1.1" height="9.3" fill="#3a3a3a"/>
<rect x="1013.2" y="431" width="1.1" height="6.3" fill="#3a3a3a"/>
<rect x="1015.2" y="388.4" width="1.1" height="46.2" fill="#3a3a3a"/>
<rect x="1017.1" y="380.3" width="1.1" height="32.1" fill="#3a3a3a"/>
<rect x="1019.1" y="378.4" width="1.1" height="37" fill="#3a3a3a"/>
<rect x="1021.1" y="382.1" width="1.1" height="13.6" fill="#3a3a3a"/>
<rect x="1023" y="382.6" width="1.1" height="8.7" fill="#3a3a3a"/>
<rect x="1025" y="387.3" width="1.1" height="38.5" fill="#3a3a3a"/>
<rect x="1027" y="414" width="1.1" height="17.5" fill="#3a3a3a"/>
<rect x="1029" y="424.9" width="1.1" height="13.3" fill="#3a3a3a"/>
<rect x="1030.9" y="420" width="1.1" height="15" fill="#3a3a3a"/>
<rect x="1032.9" y="419.2" width="1.1" height="15.5" fill="#3a3a3a"/>
<rect x="92.7" y="203.8" width="2.2" height="1.2" fill="#000"/>
<rect x="94.7" y="187.5" width="2.2" height="16.9" fill="#000"/>
<rect x="96.6" y="187.5" width="2.2" height="36" fill="#000"/>
<rect x="98.6" y="200.1" width="2.2" height="23.4" fill="#000"/>
<rect x="100.6" y="200.1" width="2.2" height="24.4" fill="#000"/>
<rect x="102.5" y="215.8" width="2.2" height="8.6" fill="#000"/>
<rect x="104.5" y="212.2" width="2.2" height="3.6" fill="#000"/>
<rect x="106.5" y="212.2" width="2.2" height="11.1" fill="#000"/>
<rect x="108.5" y="215.1" width="2.2" height="8.2" fill="#000"/>
<rect x="110.4" y="210.7" width="2.2" height="4.4" fill="#000"/>
<rect x="112.4" y="210.7" width="2.2" height="8.6" fill="#000"/>
<rect x="114.4" y="208.2" width="2.2" height="11.1" fill="#000"/>
<rect x="116.3" y="208.2" width="2.2" height="2.7" fill="#000"/>
<rect x="118.3" y="210.8" width="2.2" height="12.7" fill="#000"/>
<rect x="120.3" y="207.3" width="2.2" height="16.3" fill="#000"/>
<rect x="122.2" y="207.3" width="2.2" height="3.4" fill="#000"/>
<rect x="124.2" y="210.7" width="2.2" height="6.7" fill="#000"/>
<rect x="126.2" y="196.5" width="2.2" height="20.9" fill="#000"/>
<rect x="128.2" y="196.5" width="2.2" height="16.4" fill="#000"/>
<rect x="130.1" y="196.2" width="2.2" height="16.6" fill="#000"/>
<rect x="132.1" y="196.2" width="2.2" height="26.2" fill="#000"/>
<rect x="134.1" y="222.4" width="2.2" height="12.1" fill="#000"/>
<rect x="136" y="234.5" width="2.2" height="19.9" fill="#000"/>
<rect x="138" y="254.4" width="2.2" height="16.8" fill="#000"/>
<rect x="140" y="255.7" width="2.2" height="15.5" fill="#000"/>
<rect x="141.9" y="255.7" width="2.2" height="25.8" fill="#000"/>
<rect x="143.9" y="275.5" width="2.2" height="6" fill="#000"/>
<rect x="145.9" y="275.5" width="2.2" height="15.5" fill="#000"/>
<rect x="147.9" y="273.9" width="2.2" height="17.1" fill="#000"/>
<rect x="149.8" y="273" width="2.2" height="1.2" fill="#000"/>
<rect x="151.8" y="273.3" width="2.2" height="35.5" fill="#000"/>
<rect x="153.8" y="308.9" width="2.2" height="28.6" fill="#000"/>
<rect x="155.7" y="337.5" width="2.2" height="42.6" fill="#000"/>
<rect x="157.7" y="355.2" width="2.2" height="25" fill="#000"/>
<rect x="159.7" y="355.2" width="2.2" height="7.1" fill="#000"/>
<rect x="161.6" y="354.2" width="2.2" height="8.1" fill="#000"/>
<rect x="163.6" y="351.5" width="2.2" height="2.7" fill="#000"/>
<rect x="165.6" y="336.4" width="2.2" height="15.1" fill="#000"/>
<rect x="167.6" y="336.4" width="2.2" height="20.6" fill="#000"/>
<rect x="169.5" y="321.5" width="2.2" height="35.5" fill="#000"/>
<rect x="171.5" y="312" width="2.2" height="9.5" fill="#000"/>
<rect x="173.5" y="312" width="2.2" height="16.7" fill="#000"/>
<rect x="175.4" y="316.4" width="2.2" height="12.3" fill="#000"/>
<rect x="177.4" y="311" width="2.2" height="5.4" fill="#000"/>
<rect x="179.4" y="311" width="2.2" height="15.3" fill="#000"/>
<rect x="181.3" y="301.7" width="2.2" height="24.6" fill="#000"/>
<rect x="183.3" y="237.5" width="2.2" height="64.2" fill="#000"/>
<rect x="185.3" y="220.2" width="2.2" height="17.3" fill="#000"/>
<rect x="187.3" y="220.2" width="2.2" height="11.6" fill="#000"/>
<rect x="189.2" y="231.8" width="2.2" height="3.6" fill="#000"/>
<rect x="191.2" y="216.3" width="2.2" height="19" fill="#000"/>
<rect x="193.2" y="216.3" width="2.2" height="2.4" fill="#000"/>
<rect x="195.1" y="218.7" width="2.2" height="20.9" fill="#000"/>
<rect x="197.1" y="212.6" width="2.2" height="27" fill="#000"/>
<rect x="199.1" y="212.6" width="2.2" height="20.8" fill="#000"/>
<rect x="201" y="233.4" width="2.2" height="3.9" fill="#000"/>
<rect x="203" y="237.3" width="2.2" height="25.3" fill="#000"/>
<rect x="205" y="262.6" width="2.2" height="1.5" fill="#000"/>
<rect x="207" y="236.6" width="2.2" height="27.4" fill="#000"/>
<rect x="208.9" y="236.6" width="2.2" height="22.1" fill="#000"/>
<rect x="210.9" y="243.4" width="2.2" height="15.4" fill="#000"/>
<rect x="212.9" y="243.4" width="2.2" height="17.9" fill="#000"/>
<rect x="214.8" y="238.9" width="2.2" height="22.3" fill="#000"/>
<rect x="216.8" y="238.9" width="2.2" height="7.1" fill="#000"/>
<rect x="218.8" y="239.6" width="2.2" height="6.4" fill="#000"/>
<rect x="220.7" y="239.6" width="2.2" height="1.4" fill="#000"/>
<rect x="222.7" y="241" width="2.2" height="3.9" fill="#000"/>
<rect x="224.7" y="226" width="2.2" height="18.9" fill="#000"/>
<rect x="226.7" y="226" width="2.2" height="18.5" fill="#000"/>
<rect x="228.6" y="222.9" width="2.2" height="21.7" fill="#000"/>
<rect x="230.6" y="222.9" width="2.2" height="18.6" fill="#000"/>
<rect x="232.6" y="241.5" width="2.2" height="4.7" fill="#000"/>
<rect x="234.5" y="218.1" width="2.2" height="28" fill="#000"/>
<rect x="236.5" y="218.1" width="2.2" height="18.5" fill="#000"/>
<rect x="238.5" y="223.3" width="2.2" height="13.3" fill="#000"/>
<rect x="240.4" y="223.3" width="2.2" height="15.9" fill="#000"/>
<rect x="242.4" y="239.2" width="2.2" height="2.3" fill="#000"/>
<rect x="244.4" y="219.1" width="2.2" height="22.4" fill="#000"/>
<rect x="246.4" y="219.1" width="2.2" height="13.1" fill="#000"/>
<rect x="248.3" y="215.6" width="2.2" height="16.6" fill="#000"/>
<rect x="250.3" y="215.6" width="2.2" height="16.8" fill="#000"/>
<rect x="252.3" y="212.6" width="2.2" height="19.8" fill="#000"/>
<rect x="254.2" y="205.4" width="2.2" height="7.1" fill="#000"/>
<rect x="256.2" y="205.4" width="2.2" height="32.1" fill="#000"/>
<rect x="258.2" y="206.4" width="2.2" height="31.2" fill="#000"/>
<rect x="260.1" y="206.4" width="2.2" height="31" fill="#000"/>
<rect x="262.1" y="215.6" width="2.2" height="21.8" fill="#000"/>
<rect x="264.1" y="215.6" width="2.2" height="14.7" fill="#000"/>
<rect x="266.1" y="206.6" width="2.2" height="23.6" fill="#000"/>
<rect x="268" y="206.6" width="2.2" height="16.9" fill="#000"/>
<rect x="270" y="214.8" width="2.2" height="8.8" fill="#000"/>
<rect x="272" y="214.8" width="2.2" height="6.8" fill="#000"/>
<rect x="273.9" y="212.8" width="2.2" height="8.8" fill="#000"/>
<rect x="275.9" y="212.8" width="2.2" height="9" fill="#000"/>
<rect x="277.9" y="218.7" width="2.2" height="3.1" fill="#000"/>
<rect x="279.9" y="218.7" width="2.2" height="10.4" fill="#000"/>
<rect x="281.8" y="228.3" width="2.2" height="1.2" fill="#000"/>
<rect x="283.8" y="214.5" width="2.2" height="14.1" fill="#000"/>
<rect x="285.8" y="214.5" width="2.2" height="18.5" fill="#000"/>
<rect x="287.7" y="216.3" width="2.2" height="16.8" fill="#000"/>
<rect x="289.7" y="216.3" width="2.2" height="15.7" fill="#000"/>
<rect x="291.7" y="210.8" width="2.2" height="21.3" fill="#000"/>
<rect x="293.6" y="210.8" width="2.2" height="12.6" fill="#000"/>
<rect x="295.6" y="211.2" width="2.2" height="12.2" fill="#000"/>
<rect x="297.6" y="209.9" width="2.2" height="1.2" fill="#000"/>
<rect x="299.6" y="209.9" width="2.2" height="14.8" fill="#000"/>
<rect x="301.5" y="210.5" width="2.2" height="14.3" fill="#000"/>
<rect x="303.5" y="210.5" width="2.2" height="13.2" fill="#000"/>
<rect x="305.5" y="216.3" width="2.2" height="7.4" fill="#000"/>
<rect x="307.4" y="216.3" width="2.2" height="10.6" fill="#000"/>
<rect x="309.4" y="226.8" width="2.2" height="4.2" fill="#000"/>
<rect x="311.4" y="222.3" width="2.2" height="8.8" fill="#000"/>
<rect x="313.3" y="206.5" width="2.2" height="15.8" fill="#000"/>
<rect x="315.3" y="206" width="2.2" height="1.2" fill="#000"/>
<rect x="317.3" y="206.7" width="2.2" height="23.8" fill="#000"/>
<rect x="319.3" y="208.8" width="2.2" height="21.7" fill="#000"/>
<rect x="321.2" y="208.8" width="2.2" height="39.1" fill="#000"/>
<rect x="323.2" y="247.9" width="2.2" height="23.5" fill="#000"/>
<rect x="325.2" y="271.4" width="2.2" height="64.6" fill="#000"/>
<rect x="327.1" y="336.1" width="2.2" height="10.7" fill="#000"/>
<rect x="329.1" y="346.7" width="2.2" height="3.9" fill="#000"/>
<rect x="331.1" y="350.6" width="2.2" height="85.2" fill="#000"/>
<rect x="333" y="435.8" width="2.2" height="7.9" fill="#000"/>
<rect x="335" y="367.9" width="2.2" height="75.7" fill="#000"/>
<rect x="337" y="367.9" width="2.2" height="35.5" fill="#000"/>
<rect x="339" y="403.5" width="2.2" height="9.4" fill="#000"/>
<rect x="340.9" y="389.7" width="2.2" height="23.1" fill="#000"/>
<rect x="342.9" y="388.6" width="2.2" height="1.2" fill="#000"/>
<rect x="344.9" y="388.7" width="2.2" height="21.3" fill="#000"/>
<rect x="346.8" y="410" width="2.2" height="25.9" fill="#000"/>
<rect x="348.8" y="425.4" width="2.2" height="10.5" fill="#000"/>
<rect x="350.8" y="357.9" width="2.2" height="67.5" fill="#000"/>
<rect x="352.7" y="357.9" width="2.2" height="33.9" fill="#000"/>
<rect x="354.7" y="384.4" width="2.2" height="7.5" fill="#000"/>
<rect x="356.7" y="350.2" width="2.2" height="34.2" fill="#000"/>
<rect x="358.7" y="350.2" width="2.2" height="29.4" fill="#000"/>
<rect x="360.6" y="359.2" width="2.2" height="20.4" fill="#000"/>
<rect x="362.6" y="359.2" width="2.2" height="24.6" fill="#000"/>
<rect x="364.6" y="382.9" width="2.2" height="1.2" fill="#000"/>
<rect x="366.5" y="358.4" width="2.2" height="24.8" fill="#000"/>
<rect x="368.5" y="358.4" width="2.2" height="19.9" fill="#000"/>
<rect x="370.5" y="350.7" width="2.2" height="27.5" fill="#000"/>
<rect x="372.4" y="350.7" width="2.2" height="15.2" fill="#000"/>
<rect x="374.4" y="326.1" width="2.2" height="39.8" fill="#000"/>
<rect x="376.4" y="326.1" width="2.2" height="36.3" fill="#000"/>
<rect x="378.4" y="346.8" width="2.2" height="15.5" fill="#000"/>
<rect x="380.3" y="346.8" width="2.2" height="10.7" fill="#000"/>
<rect x="382.3" y="348.2" width="2.2" height="9.3" fill="#000"/>
<rect x="384.3" y="326.8" width="2.2" height="21.4" fill="#000"/>
<rect x="386.2" y="326.6" width="2.2" height="1.2" fill="#000"/>
<rect x="388.2" y="240.1" width="2.2" height="87.5" fill="#000"/>
<rect x="390.2" y="187.5" width="2.2" height="52.6" fill="#000"/>
<rect x="392.1" y="146" width="2.2" height="41.5" fill="#000"/>
<rect x="394.1" y="146" width="2.2" height="21.8" fill="#000"/>
<rect x="396.1" y="140.1" width="2.2" height="27.8" fill="#000"/>
<rect x="398.1" y="140.1" width="2.2" height="54.5" fill="#000"/>
<rect x="400" y="194.6" width="2.2" height="4.9" fill="#000"/>
<rect x="402" y="199.4" width="2.2" height="28" fill="#000"/>
<rect x="404" y="216" width="2.2" height="11.4" fill="#000"/>
<rect x="405.9" y="210.1" width="2.2" height="5.8" fill="#000"/>
<rect x="407.9" y="210.1" width="2.2" height="19.7" fill="#000"/>
<rect x="409.9" y="229.9" width="2.2" height="19.3" fill="#000"/>
<rect x="411.8" y="240" width="2.2" height="9.2" fill="#000"/>
<rect x="413.8" y="240" width="2.2" height="15.7" fill="#000"/>
<rect x="415.8" y="255.7" width="2.2" height="6.7" fill="#000"/>
<rect x="417.8" y="262.4" width="2.2" height="8.2" fill="#000"/>
<rect x="419.7" y="270.7" width="2.2" height="17.2" fill="#000"/>
<rect x="421.7" y="273.5" width="2.2" height="14.4" fill="#000"/>
<rect x="423.7" y="273.5" width="2.2" height="21.8" fill="#000"/>
<rect x="425.6" y="294.8" width="2.2" height="1.2" fill="#000"/>
<rect x="427.6" y="295.5" width="2.2" height="7.8" fill="#000"/>
<rect x="429.6" y="302.8" width="2.2" height="1.2" fill="#000"/>
<rect x="431.5" y="303.4" width="2.2" height="1.8" fill="#000"/>
<rect x="433.5" y="292" width="2.2" height="13.2" fill="#000"/>
<rect x="435.5" y="290.1" width="2.2" height="1.9" fill="#000"/>
<rect x="437.5" y="290.1" width="2.2" height="12.9" fill="#000"/>
<rect x="439.4" y="299.2" width="2.2" height="3.9" fill="#000"/>
<rect x="441.4" y="295" width="2.2" height="4.1" fill="#000"/>
<rect x="443.4" y="253.8" width="2.2" height="41.3" fill="#000"/>
<rect x="445.3" y="253.8" width="2.2" height="21.7" fill="#000"/>
<rect x="447.3" y="275.4" width="2.2" height="13" fill="#000"/>
<rect x="449.3" y="250.1" width="2.2" height="38.3" fill="#000"/>
<rect x="451.2" y="250.1" width="2.2" height="28.8" fill="#000"/>
<rect x="453.2" y="279" width="2.2" height="10.3" fill="#000"/>
<rect x="455.2" y="257.6" width="2.2" height="31.7" fill="#000"/>
<rect x="457.2" y="257.6" width="2.2" height="15.5" fill="#000"/>
<rect x="459.1" y="273.1" width="2.2" height="14.3" fill="#000"/>
<rect x="461.1" y="287.3" width="2.2" height="1.2" fill="#000"/>
<rect x="463.1" y="277.5" width="2.2" height="11" fill="#000"/>
<rect x="465" y="277.5" width="2.2" height="14" fill="#000"/>
<rect x="467" y="281.4" width="2.2" height="10.1" fill="#000"/>
<rect x="469" y="281.4" width="2.2" height="13" fill="#000"/>
<rect x="470.9" y="284.1" width="2.2" height="10.4" fill="#000"/>
<rect x="472.9" y="276.8" width="2.2" height="7.3" fill="#000"/>
<rect x="474.9" y="270.8" width="2.2" height="5.9" fill="#000"/>
<rect x="476.9" y="270.8" width="2.2" height="9.7" fill="#000"/>
<rect x="478.8" y="280.5" width="2.2" height="2.9" fill="#000"/>
<rect x="480.8" y="271.9" width="2.2" height="11.5" fill="#000"/>
<rect x="482.8" y="271.9" width="2.2" height="8.5" fill="#000"/>
<rect x="484.7" y="280.3" width="2.2" height="11.2" fill="#000"/>
<rect x="486.7" y="291.5" width="2.2" height="7" fill="#000"/>
<rect x="488.7" y="283.2" width="2.2" height="15.3" fill="#000"/>
<rect x="490.6" y="283.2" width="2.2" height="14.5" fill="#000"/>
<rect x="492.6" y="281" width="2.2" height="16.7" fill="#000"/>
<rect x="494.6" y="276.6" width="2.2" height="4.4" fill="#000"/>
<rect x="496.6" y="276.6" width="2.2" height="7.2" fill="#000"/>
<rect x="498.5" y="273.1" width="2.2" height="10.7" fill="#000"/>
<rect x="500.5" y="270.1" width="2.2" height="2.9" fill="#000"/>
<rect x="502.5" y="270.1" width="2.2" height="3.8" fill="#000"/>
<rect x="504.4" y="273.6" width="2.2" height="1.2" fill="#000"/>
<rect x="506.4" y="274.5" width="2.2" height="9.6" fill="#000"/>
<rect x="508.4" y="267.5" width="2.2" height="16.7" fill="#000"/>
<rect x="510.3" y="267.1" width="2.2" height="1.2" fill="#000"/>
<rect x="512.3" y="268" width="2.2" height="11.5" fill="#000"/>
<rect x="514.3" y="268.2" width="2.2" height="11.3" fill="#000"/>
<rect x="516.3" y="264.7" width="2.2" height="3.5" fill="#000"/>
<rect x="518.2" y="264.4" width="2.2" height="1.2" fill="#000"/>
<rect x="520.2" y="265.4" width="2.2" height="2.9" fill="#000"/>
<rect x="522.2" y="268.3" width="2.2" height="6.7" fill="#000"/>
<rect x="524.1" y="264.1" width="2.2" height="10.8" fill="#000"/>
<rect x="526.1" y="264.1" width="2.2" height="10.5" fill="#000"/>
<rect x="528.1" y="269.2" width="2.2" height="5.4" fill="#000"/>
<rect x="530" y="269.2" width="2.2" height="27.8" fill="#000"/>
<rect x="532" y="296.8" width="2.2" height="1.2" fill="#000"/>
<rect x="534" y="297.7" width="2.2" height="20.2" fill="#000"/>
<rect x="536" y="312.2" width="2.2" height="5.7" fill="#000"/>
<rect x="537.9" y="300.9" width="2.2" height="11.3" fill="#000"/>
<rect x="539.9" y="300.9" width="2.2" height="4.6" fill="#000"/>
<rect x="541.9" y="305.5" width="2.2" height="4.1" fill="#000"/>
<rect x="543.8" y="274.3" width="2.2" height="35.3" fill="#000"/>
<rect x="545.8" y="274.3" width="2.2" height="8.6" fill="#000"/>
<rect x="547.8" y="260.3" width="2.2" height="22.6" fill="#000"/>
<rect x="549.7" y="260.3" width="2.2" height="22.8" fill="#000"/>
<rect x="551.7" y="282.8" width="2.2" height="1.2" fill="#000"/>
<rect x="553.7" y="283.1" width="2.2" height="1.2" fill="#000"/>
<rect x="555.7" y="276.2" width="2.2" height="7.7" fill="#000"/>
<rect x="557.6" y="273.2" width="2.2" height="3" fill="#000"/>
<rect x="559.6" y="255.9" width="2.2" height="17.3" fill="#000"/>
<rect x="561.6" y="255.9" width="2.2" height="25.9" fill="#000"/>
<rect x="563.5" y="280.8" width="2.2" height="1.2" fill="#000"/>
<rect x="565.5" y="280.9" width="2.2" height="14" fill="#000"/>
<rect x="567.5" y="289.5" width="2.2" height="5.5" fill="#000"/>
<rect x="569.4" y="280.2" width="2.2" height="9.3" fill="#000"/>
<rect x="571.4" y="280.2" width="2.2" height="16" fill="#000"/>
<rect x="573.4" y="276.3" width="2.2" height="19.8" fill="#000"/>
<rect x="575.4" y="268" width="2.2" height="8.3" fill="#000"/>
<rect x="577.3" y="261.3" width="2.2" height="6.7" fill="#000"/>
<rect x="579.3" y="250.5" width="2.2" height="10.8" fill="#000"/>
<rect x="581.3" y="250.5" width="2.2" height="10.5" fill="#000"/>
<rect x="583.2" y="253" width="2.2" height="8" fill="#000"/>
<rect x="585.2" y="240.6" width="2.2" height="12.4" fill="#000"/>
<rect x="587.2" y="235.1" width="2.2" height="5.5" fill="#000"/>
<rect x="589.1" y="235.1" width="2.2" height="16.9" fill="#000"/>
<rect x="591.1" y="251.3" width="2.2" height="1.2" fill="#000"/>
<rect x="593.1" y="245.6" width="2.2" height="6.2" fill="#000"/>
<rect x="595.1" y="244.2" width="2.2" height="1.4" fill="#000"/>
<rect x="597" y="221.2" width="2.2" height="23" fill="#000"/>
<rect x="599" y="221.2" width="2.2" height="7.9" fill="#000"/>
<rect x="601" y="229" width="2.2" height="7.3" fill="#000"/>
<rect x="602.9" y="218.8" width="2.2" height="17.5" fill="#000"/>
<rect x="604.9" y="218.8" width="2.2" height="22.5" fill="#000"/>
<rect x="606.9" y="241.2" width="2.2" height="60.4" fill="#000"/>
<rect x="608.8" y="299.6" width="2.2" height="2" fill="#000"/>
<rect x="610.8" y="282.4" width="2.2" height="17.2" fill="#000"/>
<rect x="612.8" y="282.4" width="2.2" height="7.9" fill="#000"/>
<rect x="614.8" y="290.3" width="2.2" height="11.6" fill="#000"/>
<rect x="616.7" y="290.6" width="2.2" height="11.4" fill="#000"/>
<rect x="618.7" y="290.6" width="2.2" height="6.6" fill="#000"/>
<rect x="620.7" y="288.6" width="2.2" height="8.5" fill="#000"/>
<rect x="622.6" y="288.6" width="2.2" height="7.9" fill="#000"/>
<rect x="624.6" y="285.5" width="2.2" height="10.9" fill="#000"/>
<rect x="626.6" y="285.5" width="2.2" height="8.1" fill="#000"/>
<rect x="628.5" y="284.9" width="2.2" height="8.7" fill="#000"/>
<rect x="630.5" y="279.2" width="2.2" height="5.8" fill="#000"/>
<rect x="632.5" y="279.2" width="2.2" height="20.6" fill="#000"/>
<rect x="634.5" y="284.3" width="2.2" height="15.4" fill="#000"/>
<rect x="636.4" y="284.3" width="2.2" height="15.7" fill="#000"/>
<rect x="638.4" y="278.2" width="2.2" height="21.8" fill="#000"/>
<rect x="640.4" y="274.9" width="2.2" height="3.3" fill="#000"/>
<rect x="642.3" y="251.8" width="2.2" height="23.2" fill="#000"/>
<rect x="644.3" y="251.8" width="2.2" height="3" fill="#000"/>
<rect x="646.3" y="254.7" width="2.2" height="9.5" fill="#000"/>
<rect x="648.2" y="250.1" width="2.2" height="14" fill="#000"/>
<rect x="650.2" y="250.1" width="2.2" height="2.7" fill="#000"/>
<rect x="652.2" y="252.8" width="2.2" height="5.6" fill="#000"/>
<rect x="654.2" y="258.4" width="2.2" height="5.5" fill="#000"/>
<rect x="656.1" y="252.9" width="2.2" height="10.9" fill="#000"/>
<rect x="658.1" y="250.9" width="2.2" height="2.1" fill="#000"/>
<rect x="660.1" y="237.5" width="2.2" height="13.3" fill="#000"/>
<rect x="662" y="237.5" width="2.2" height="8.1" fill="#000"/>
<rect x="664" y="240.3" width="2.2" height="5.3" fill="#000"/>
<rect x="666" y="228.6" width="2.2" height="11.7" fill="#000"/>
<rect x="667.9" y="228.6" width="2.2" height="16.1" fill="#000"/>
<rect x="669.9" y="231.7" width="2.2" height="13" fill="#000"/>
<rect x="671.9" y="231.7" width="2.2" height="14.7" fill="#000"/>
<rect x="673.9" y="240.1" width="2.2" height="6.3" fill="#000"/>
<rect x="675.8" y="240.1" width="2.2" height="3.4" fill="#000"/>
<rect x="677.8" y="243.6" width="2.2" height="3.3" fill="#000"/>
<rect x="679.8" y="236.7" width="2.2" height="10.1" fill="#000"/>
<rect x="681.7" y="233.4" width="2.2" height="3.3" fill="#000"/>
<rect x="683.7" y="231.6" width="2.2" height="1.8" fill="#000"/>
<rect x="685.7" y="231.6" width="2.2" height="7.7" fill="#000"/>
<rect x="687.6" y="229.6" width="2.2" height="9.7" fill="#000"/>
<rect x="689.6" y="229.6" width="2.2" height="8.3" fill="#000"/>
<rect x="691.6" y="231.3" width="2.2" height="6.6" fill="#000"/>
<rect x="693.6" y="231.3" width="2.2" height="11" fill="#000"/>
<rect x="695.5" y="240.6" width="2.2" height="1.8" fill="#000"/>
<rect x="697.5" y="230.6" width="2.2" height="10" fill="#000"/>
<rect x="699.5" y="230.6" width="2.2" height="11.1" fill="#000"/>
<rect x="701.4" y="235.1" width="2.2" height="6.6" fill="#000"/>
<rect x="703.4" y="228" width="2.2" height="7.1" fill="#000"/>
<rect x="705.4" y="228" width="2.2" height="4.9" fill="#000"/>
<rect x="707.3" y="207" width="2.2" height="25.9" fill="#000"/>
<rect x="709.3" y="207" width="2.2" height="9" fill="#000"/>
<rect x="711.3" y="201.9" width="2.2" height="14.1" fill="#000"/>
<rect x="713.3" y="171.1" width="2.2" height="30.7" fill="#000"/>
<rect x="715.2" y="171.1" width="2.2" height="14.6" fill="#000"/>
<rect x="717.2" y="174.2" width="2.2" height="11.6" fill="#000"/>
<rect x="719.2" y="159.2" width="2.2" height="14.9" fill="#000"/>
<rect x="721.1" y="159.2" width="2.2" height="22.6" fill="#000"/>
<rect x="723.1" y="146.3" width="2.2" height="35.5" fill="#000"/>
<rect x="725.1" y="146.3" width="2.2" height="21.9" fill="#000"/>
<rect x="727" y="168.2" width="2.2" height="5.8" fill="#000"/>
<rect x="729" y="169.7" width="2.2" height="4.3" fill="#000"/>
<rect x="731" y="156.2" width="2.2" height="13.5" fill="#000"/>
<rect x="733" y="156.2" width="2.2" height="2.8" fill="#000"/>
<rect x="734.9" y="132.4" width="2.2" height="26.7" fill="#000"/>
<rect x="736.9" y="132.4" width="2.2" height="26.3" fill="#000"/>
<rect x="738.9" y="158.6" width="2.2" height="17.2" fill="#000"/>
<rect x="740.8" y="175.8" width="2.2" height="10.2" fill="#000"/>
<rect x="742.8" y="186" width="2.2" height="37.2" fill="#000"/>
<rect x="744.8" y="208.1" width="2.2" height="15.2" fill="#000"/>
<rect x="746.7" y="203.9" width="2.2" height="4.2" fill="#000"/>
<rect x="748.7" y="203.9" width="2.2" height="23.4" fill="#000"/>
<rect x="750.7" y="226.5" width="2.2" height="1.2" fill="#000"/>
<rect x="752.7" y="214.8" width="2.2" height="12" fill="#000"/>
<rect x="754.6" y="210.4" width="2.2" height="4.5" fill="#000"/>
<rect x="756.6" y="210.4" width="2.2" height="25.1" fill="#000"/>
<rect x="758.6" y="225.8" width="2.2" height="9.7" fill="#000"/>
<rect x="760.5" y="225.8" width="2.2" height="17.5" fill="#000"/>
<rect x="762.5" y="237.1" width="2.2" height="6.2" fill="#000"/>
<rect x="764.5" y="237.1" width="2.2" height="23.9" fill="#000"/>
<rect x="766.4" y="240.4" width="2.2" height="20.5" fill="#000"/>
<rect x="768.4" y="240.4" width="2.2" height="30.9" fill="#000"/>
<rect x="770.4" y="251.3" width="2.2" height="20" fill="#000"/>
<rect x="772.4" y="251.3" width="2.2" height="20" fill="#000"/>
<rect x="774.3" y="252" width="2.2" height="19.4" fill="#000"/>
<rect x="776.3" y="252" width="2.2" height="22.5" fill="#000"/>
<rect x="778.3" y="265.1" width="2.2" height="9.3" fill="#000"/>
<rect x="780.2" y="265.1" width="2.2" height="8.2" fill="#000"/>
<rect x="782.2" y="267.4" width="2.2" height="6" fill="#000"/>
<rect x="784.2" y="266.2" width="2.2" height="1.2" fill="#000"/>
<rect x="786.1" y="266.2" width="2.2" height="7.2" fill="#000"/>
<rect x="788.1" y="273.4" width="2.2" height="2.9" fill="#000"/>
<rect x="790.1" y="262.6" width="2.2" height="13.7" fill="#000"/>
<rect x="792.1" y="262.4" width="2.2" height="1.2" fill="#000"/>
<rect x="794" y="263.4" width="2.2" height="9" fill="#000"/>
<rect x="796" y="272.3" width="2.2" height="1.2" fill="#000"/>
<rect x="798" y="267.5" width="2.2" height="5.8" fill="#000"/>
<rect x="799.9" y="267.5" width="2.2" height="5.5" fill="#000"/>
<rect x="801.9" y="263.8" width="2.2" height="9.2" fill="#000"/>
<rect x="803.9" y="261.9" width="2.2" height="1.8" fill="#000"/>
<rect x="805.8" y="261.5" width="2.2" height="1.2" fill="#000"/>
<rect x="807.8" y="262.3" width="2.2" height="8.5" fill="#000"/>
<rect x="809.8" y="266.1" width="2.2" height="4.7" fill="#000"/>
<rect x="811.8" y="266.1" width="2.2" height="10.6" fill="#000"/>
<rect x="813.7" y="276.1" width="2.2" height="1.2" fill="#000"/>
<rect x="815.7" y="267.3" width="2.2" height="9.4" fill="#000"/>
<rect x="817.7" y="267.3" width="2.2" height="9.4" fill="#000"/>
<rect x="819.6" y="276.7" width="2.2" height="24.1" fill="#000"/>
<rect x="821.6" y="288.3" width="2.2" height="12.5" fill="#000"/>
<rect x="823.6" y="288.3" width="2.2" height="8.4" fill="#000"/>
<rect x="825.5" y="292.5" width="2.2" height="4.2" fill="#000"/>
<rect x="827.5" y="292.5" width="2.2" height="23" fill="#000"/>
<rect x="829.5" y="315.5" width="2.2" height="6.1" fill="#000"/>
<rect x="831.5" y="315.8" width="2.2" height="5.9" fill="#000"/>
<rect x="833.4" y="306.8" width="2.2" height="9" fill="#000"/>
<rect x="835.4" y="306.8" width="2.2" height="15.4" fill="#000"/>
<rect x="837.4" y="314.6" width="2.2" height="7.6" fill="#000"/>
<rect x="839.3" y="304.8" width="2.2" height="9.8" fill="#000"/>
<rect x="841.3" y="304.8" width="2.2" height="15.8" fill="#000"/>
<rect x="843.3" y="307.2" width="2.2" height="13.3" fill="#000"/>
<rect x="845.2" y="307.2" width="2.2" height="4.9" fill="#000"/>
<rect x="847.2" y="312.2" width="2.2" height="35.5" fill="#000"/>
<rect x="849.2" y="334.3" width="2.2" height="13.4" fill="#000"/>
<rect x="851.2" y="334.3" width="2.2" height="17.2" fill="#000"/>
<rect x="853.1" y="351.1" width="2.2" height="1.2" fill="#000"/>
<rect x="855.1" y="346.5" width="2.2" height="5.4" fill="#000"/>
<rect x="857.1" y="346.5" width="2.2" height="44.5" fill="#000"/>
<rect x="859" y="372.7" width="2.2" height="18.3" fill="#000"/>
<rect x="861" y="372.7" width="2.2" height="4.4" fill="#000"/>
<rect x="863" y="377" width="2.2" height="1.2" fill="#000"/>
<rect x="864.9" y="369.7" width="2.2" height="8.6" fill="#000"/>
<rect x="866.9" y="369.7" width="2.2" height="1.3" fill="#000"/>
<rect x="868.9" y="371" width="2.2" height="16.1" fill="#000"/>
<rect x="870.9" y="369.5" width="2.2" height="17.7" fill="#000"/>
<rect x="872.8" y="369.5" width="2.2" height="14.5" fill="#000"/>
<rect x="874.8" y="359.4" width="2.2" height="24.6" fill="#000"/>
<rect x="876.8" y="347.2" width="2.2" height="12.2" fill="#000"/>
<rect x="878.7" y="347.2" width="2.2" height="8.4" fill="#000"/>
<rect x="880.7" y="352.9" width="2.2" height="2.7" fill="#000"/>
<rect x="882.7" y="352.9" width="2.2" height="8.1" fill="#000"/>
<rect x="884.6" y="352.9" width="2.2" height="8.1" fill="#000"/>
<rect x="886.6" y="351.8" width="2.2" height="1.2" fill="#000"/>
<rect x="888.6" y="347.7" width="2.2" height="4.1" fill="#000"/>
<rect x="890.6" y="347.7" width="2.2" height="11.7" fill="#000"/>
<rect x="892.5" y="347" width="2.2" height="12.4" fill="#000"/>
<rect x="894.5" y="347" width="2.2" height="27.9" fill="#000"/>
<rect x="896.5" y="373.4" width="2.2" height="1.6" fill="#000"/>
<rect x="898.4" y="373.4" width="2.2" height="37.1" fill="#000"/>
<rect x="900.4" y="406.7" width="2.2" height="3.7" fill="#000"/>
<rect x="902.4" y="406.7" width="2.2" height="14.3" fill="#000"/>
<rect x="904.3" y="405.8" width="2.2" height="15.2" fill="#000"/>
<rect x="906.3" y="405.8" width="2.2" height="12.2" fill="#000"/>
<rect x="908.3" y="417.9" width="2.2" height="4.6" fill="#000"/>
<rect x="910.3" y="422" width="2.2" height="1.2" fill="#000"/>
<rect x="912.2" y="404.9" width="2.2" height="17.7" fill="#000"/>
<rect x="914.2" y="404.9" width="2.2" height="18.3" fill="#000"/>
<rect x="916.2" y="399.6" width="2.2" height="23.6" fill="#000"/>
<rect x="918.1" y="386.1" width="2.2" height="13.4" fill="#000"/>
<rect x="920.1" y="385.5" width="2.2" height="1.2" fill="#000"/>
<rect x="922.1" y="385.7" width="2.2" height="1.2" fill="#000"/>
<rect x="924" y="386.4" width="2.2" height="11.2" fill="#000"/>
<rect x="926" y="371.6" width="2.2" height="26.1" fill="#000"/>
<rect x="928" y="371.6" width="2.2" height="2.2" fill="#000"/>
<rect x="930" y="359.6" width="2.2" height="14.1" fill="#000"/>
<rect x="931.9" y="359.6" width="2.2" height="15.2" fill="#000"/>
<rect x="933.9" y="358.5" width="2.2" height="16.3" fill="#000"/>
<rect x="935.9" y="358.5" width="2.2" height="29" fill="#000"/>
<rect x="937.8" y="377.1" width="2.2" height="10.4" fill="#000"/>
<rect x="939.8" y="377.1" width="2.2" height="10.5" fill="#000"/>
<rect x="941.8" y="377.1" width="2.2" height="10.5" fill="#000"/>
<rect x="943.7" y="362.9" width="2.2" height="14.2" fill="#000"/>
<rect x="945.7" y="358.7" width="2.2" height="4.2" fill="#000"/>
<rect x="947.7" y="354.7" width="2.2" height="4" fill="#000"/>
<rect x="949.7" y="354.4" width="2.2" height="1.2" fill="#000"/>
<rect x="951.6" y="350.5" width="2.2" height="4.8" fill="#000"/>
<rect x="953.6" y="350.5" width="2.2" height="24.1" fill="#000"/>
<rect x="955.6" y="364.2" width="2.2" height="10.4" fill="#000"/>
<rect x="957.5" y="364.2" width="2.2" height="7.3" fill="#000"/>
<rect x="959.5" y="371.5" width="2.2" height="12.1" fill="#000"/>
<rect x="961.5" y="363.5" width="2.2" height="20.1" fill="#000"/>
<rect x="963.4" y="363.5" width="2.2" height="17.7" fill="#000"/>
<rect x="965.4" y="381.2" width="2.2" height="9.4" fill="#000"/>
<rect x="967.4" y="384.7" width="2.2" height="5.9" fill="#000"/>
<rect x="969.4" y="384.7" width="2.2" height="1.3" fill="#000"/>
<rect x="971.3" y="386.1" width="2.2" height="8" fill="#000"/>
<rect x="973.3" y="394" width="2.2" height="1.2" fill="#000"/>
<rect x="975.3" y="388.4" width="2.2" height="6.8" fill="#000"/>
<rect x="977.2" y="388.4" width="2.2" height="2.9" fill="#000"/>
<rect x="979.2" y="390.2" width="2.2" height="1.2" fill="#000"/>
<rect x="981.2" y="383.8" width="2.2" height="6.7" fill="#000"/>
<rect x="983.1" y="383.3" width="2.2" height="1.2" fill="#000"/>
<rect x="985.1" y="384" width="2.2" height="12.6" fill="#000"/>
<rect x="987.1" y="389.1" width="2.2" height="7.5" fill="#000"/>
<rect x="989.1" y="389.1" width="2.2" height="9.5" fill="#000"/>
<rect x="991" y="398.6" width="2.2" height="4.8" fill="#000"/>
<rect x="993" y="403.4" width="2.2" height="11.8" fill="#000"/>
<rect x="995" y="415.2" width="2.2" height="23.1" fill="#000"/>
<rect x="996.9" y="438.3" width="2.2" height="11.6" fill="#000"/>
<rect x="998.9" y="434.1" width="2.2" height="15.8" fill="#000"/>
<rect x="1000.9" y="434.1" width="2.2" height="11.2" fill="#000"/>
<rect x="1002.8" y="433.4" width="2.2" height="11.9" fill="#000"/>
<rect x="1004.8" y="433.4" width="2.2" height="11.9" fill="#000"/>
<rect x="1006.8" y="444.8" width="2.2" height="1.2" fill="#000"/>
<rect x="1008.8" y="440.9" width="2.2" height="4.5" fill="#000"/>
<rect x="1010.7" y="435.8" width="2.2" height="5.1" fill="#000"/>
<rect x="1012.7" y="433.4" width="2.2" height="2.4" fill="#000"/>
<rect x="1014.7" y="390.3" width="2.2" height="43.1" fill="#000"/>
<rect x="1016.6" y="390.3" width="2.2" height="13.7" fill="#000"/>
<rect x="1018.6" y="391.5" width="2.2" height="12.6" fill="#000"/>
<rect x="1020.6" y="383.8" width="2.2" height="7.7" fill="#000"/>
<rect x="1022.5" y="383.8" width="2.2" height="3.6" fill="#000"/>
<rect x="1024.5" y="387.3" width="2.2" height="29" fill="#000"/>
<rect x="1026.5" y="416.3" width="2.2" height="12.1" fill="#000"/>
<rect x="1028.5" y="428.4" width="2.2" height="2" fill="#000"/>
<rect x="1030.4" y="424.4" width="2.2" height="6.1" fill="#000"/>
<rect x="1032.4" y="424.4" width="2.2" height="8.1" fill="#000"/>
<rect x="123.4" y="168" width="1.2" height="80" fill="#333"/>
<rect x="156.6" y="372" width="1.2" height="42.7" fill="#333"/>
<rect x="165.9" y="330" width="1.2" height="60" fill="#333"/>
<rect x="182.6" y="92" width="1.2" height="228" fill="#333"/>
<rect x="235.9" y="186" width="1.2" height="66" fill="#333"/>
<rect x="278.8" y="181" width="1.2" height="87" fill="#333"/>
<rect x="316.9" y="200" width="1.2" height="30" fill="#333"/>
<rect x="332.9" y="360" width="1.2" height="123" fill="#333"/>
<rect x="352" y="380" width="1.2" height="73.5" fill="#333"/>
<rect x="377.4" y="340" width="1.2" height="55" fill="#333"/>
<rect x="393.2" y="85" width="1.2" height="115" fill="#333"/>
<rect x="466.4" y="237" width="1.2" height="53" fill="#333"/>
<rect x="478.2" y="251" width="1.2" height="34" fill="#333"/>
<rect x="497.9" y="242" width="1.2" height="38" fill="#333"/>
<rect x="536.4" y="310" width="1.2" height="35" fill="#333"/>
<rect x="547.4" y="247" width="1.2" height="43" fill="#333"/>
<rect x="596.4" y="209" width="1.2" height="31" fill="#333"/>
<rect x="609.4" y="262" width="1.2" height="63" fill="#333"/>
<rect x="635.4" y="290" width="1.2" height="22" fill="#333"/>
<rect x="639.8" y="246" width="1.2" height="54" fill="#333"/>
<rect x="734.6" y="85" width="1.2" height="81" fill="#333"/>
<rect x="738.4" y="170" width="1.2" height="64" fill="#333"/>
<rect x="801.4" y="246" width="1.2" height="34" fill="#333"/>
<rect x="813.4" y="252" width="1.2" height="30" fill="#333"/>
<rect x="831.4" y="200" width="1.2" height="134" fill="#333"/>
<rect x="969.4" y="380" width="1.2" height="40.6" fill="#333"/>
<rect x="986.9" y="357" width="1.2" height="43" fill="#333"/>
<rect x="1016.4" y="363" width="1.2" height="57" fill="#333"/>
<rect x="156.4" y="300" width="1.2" height="95" fill="#333"/>
<rect x="154.9" y="300" width="1.2" height="80" fill="#333"/>
<rect x="182" y="92" width="2.3" height="120" fill="#555"/>
<rect x="392.3" y="178" width="5.3" height="34" fill="#666"/>
<rect x="93" y="168" width="3.5" height="61" fill="#000"/>
<rect x="127.5" y="191" width="5" height="21" fill="#000"/>
<rect x="331.5" y="368" width="3.5" height="112" fill="#000"/>
<rect x="182.2" y="210" width="2.2" height="110" fill="#000"/>
<rect x="391.3" y="104" width="9.8" height="74" fill="#000"/>
<rect x="392" y="87" width="3.5" height="17" fill="#000"/>
<rect x="184.5" y="212" width="5" height="18" fill="#000"/>
<rect x="278.4" y="204" width="2.2" height="56" fill="#000"/>
<rect x="736.5" y="110" width="2.5" height="56" fill="#000"/>
<rect x="389.4" y="165" width="2.6" height="157" fill="#000"/>
<rect x="397.8" y="178" width="2.5" height="26" fill="#000"/>
</g>
<path d="M110 207.4 C110.6 207.8 112.3 208.1 113.5 209.5 C114.7 210.9 116.1 215.3 117.3 216 C118.5 216.7 119.2 213.9 120.4 213.8 C121.6 213.7 122.9 215.8 124.4 215.3 C125.9 214.8 128.1 211.4 129.5 211 C130.9 210.6 131.7 211.7 133 213 C134.3 214.3 135.4 215.7 137.3 219 C139.2 222.3 142.5 227.3 144.5 233 C146.5 238.7 147.9 245.6 149.4 253 C150.9 260.4 152 268.7 153.7 277.3 C155.4 285.9 157.5 296.2 159.4 304.6 C161.3 313 163.5 321.7 165.2 327.6 C166.9 333.5 167.8 336.7 169.5 340 C171.2 343.3 173.5 347.3 175.2 347.3 C176.9 347.3 177.8 346.9 179.5 340 C181.2 333.1 183.4 316.7 185.3 306 C187.2 295.3 189.4 283.9 191 276 C192.6 268.1 193.5 264.7 195 258.7 C196.5 252.7 198.5 245.4 200 240 C201.5 234.6 202.5 227.3 204 226 C205.5 224.7 207.2 230 209 232 C210.8 234 212.3 235.7 215 238 C217.7 240.3 221.7 245.5 225 246 C228.3 246.5 231.7 243 235 241 C238.3 239 241 237.5 245 234 C249 230.5 255 222.8 259 220 C263 217.2 265.7 217 269 217 C272.3 217 276 219.7 279 220 C282 220.3 284.2 218.7 287 219 C289.8 219.3 293.1 222.5 295.5 222 C297.9 221.5 299.4 216.8 301.5 216 C303.6 215.2 305.6 217.3 308 217 C310.4 216.7 313.3 213.2 315.6 214 C317.9 214.8 319.3 214 321.6 222 C323.9 230 327.2 249 329.6 262 C332 275 333.8 286 336 300 C338.2 314 340.8 331.2 343 346 C345.2 360.8 347.3 379.1 349 388.5 C350.7 397.9 351.8 401.8 353.2 402.6 C354.6 403.4 355.7 394.7 357.2 393.5 C358.7 392.3 360.7 396.3 362.2 395.5 C363.7 394.7 363.9 394 366.3 388.5 C368.7 383 373.6 368.1 376.3 362.4 C379 356.7 380.3 356.6 382.3 354.4 C384.3 352.2 387 355.1 388.4 349.4 C389.8 343.7 389.5 330.7 390.5 320 C391.5 309.3 393.1 296.2 394.5 285 C395.9 273.8 396.9 265.2 398.7 253 C400.4 240.8 402.9 221.6 405 212 C407.1 202.4 409.5 195.7 411.5 195.5 C413.5 195.3 415.2 203.6 417 211 C418.8 218.4 420.4 230.6 422.5 240 C424.6 249.4 427.7 260.2 429.8 267.7 C431.9 275.2 433.5 280.4 435 285 C436.5 289.6 437.9 293.2 439 295 C440.1 296.8 440.2 297.2 441.7 296 C443.2 294.8 445.8 290.8 448 287.8 C450.2 284.8 453 280.1 455 278 C457 275.9 458.5 276.1 460 275.5 C461.5 274.9 462 273.8 464 274.5 C466 275.2 469.3 278.3 472 279.5 C474.7 280.7 475.2 281.3 480 281.5 C484.8 281.7 496.8 280.5 500.5 280.5 C504.2 280.5 499.8 282.5 502.5 281.5 C505.2 280.5 512.3 276.4 516.5 274.5 C520.7 272.6 524.5 269.1 527.6 270.4 C530.7 271.6 532.9 278.6 535 282 C537.1 285.4 538.5 288.4 540 290.5 C541.5 292.6 542 294.1 544 294.4 C546 294.7 549.3 295.1 552 292.4 C554.7 289.7 557.7 282.1 560 278 C562.3 273.9 563.3 268.3 566 268 C568.7 267.7 572.7 276 576 276 C579.3 276 583 271.7 586 268 C589 264.3 591 259.2 594 254 C597 248.8 601.3 238.3 604 237 C606.7 235.7 607.7 241.2 610 246 C612.3 250.8 615.3 259 618 266 C620.7 273 623.7 283.3 626 288 C628.3 292.7 629.8 293.1 632 294 C634.2 294.9 637.3 295.7 639.4 293.4 C641.5 291.1 642.6 283.7 644.6 280 C646.6 276.3 649.2 274.3 651.6 271 C654 267.7 656.9 263.5 658.7 260.4 C660.5 257.3 660.2 254.3 662.2 252.2 C664.2 250 667.1 249.9 670.4 247.5 C673.7 245.1 679.1 238.9 682.2 237.5 C685.3 236.1 686.3 239.3 689.2 239.3 C692.1 239.3 696.9 238.7 699.8 237.5 C702.7 236.3 704.4 235.1 706.8 232 C709.2 228.9 711.8 225 714.3 218.7 C716.8 212.4 719.2 202.3 721.7 194 C724.2 185.7 726.2 176.2 729 169 C731.8 161.8 735.7 151.5 738.5 151 C741.3 150.5 743.4 159.1 746 166 C748.6 172.9 751.7 185.2 754 192.5 C756.3 199.8 757 202.1 760 210 C763 217.9 767.3 230.8 772 240 C776.7 249.2 783.2 259.8 788 265 C792.8 270.2 797.1 270.3 800.5 271 C803.9 271.7 805.8 269.2 808.5 269 C811.2 268.8 813.8 267.4 816.5 270 C819.2 272.6 822 280.7 824.6 284.4 C827.2 288.1 829.4 288.6 832 292 C834.6 295.4 837.3 300.8 840 304.5 C842.7 308.2 845.3 310.1 848 314 C850.7 317.9 852.3 320 856 328 C859.7 336 866.5 355 870 362 C873.5 369 874.3 370 877 370 C879.7 370 883.2 364.3 886 362 C888.8 359.7 891.3 354.3 894 356 C896.7 357.7 898.7 363.9 902 372 C905.3 380.1 911.2 398.4 914 404.5 C916.8 410.6 917 409.5 919 408.5 C921 407.5 923.4 403 926 398.5 C928.6 394 931.6 385.4 934.4 381.4 C937.1 377.4 939.8 377.1 942.5 374.4 C945.2 371.7 948.2 366.4 950.5 365.3 C952.8 364.2 954.5 367.5 956.5 368 C958.5 368.5 960.1 366.7 962.5 368.4 C964.9 370.1 967.9 375.4 970.6 378.4 C973.3 381.4 976.1 384.6 978.6 386.4 C981.1 388.2 983.8 389.1 985.7 389.4 C987.6 389.7 988.7 386.9 990.2 388 C991.7 389.1 992.5 391.5 994.8 395.8 C997.1 400.1 1000.8 406.9 1004 414 C1007.2 421.1 1011.3 436.3 1014 438.7 C1016.7 441.1 1018.4 431.7 1020.4 428.6 C1022.4 425.6 1023.7 422.4 1025.8 420.4 C1027.9 418.4 1031.8 417.4 1033 416.8" fill="none" stroke="#008000" stroke-width="2.3" stroke-linejoin="round" stroke-linecap="round" />
<rect x="810" y="36" width="375" height="159.5" fill="#fff" fill-opacity="0.95" stroke="#e5e5e5" stroke-width="1"/>
<path d="M829.4 54.7L838.6 63.9M829.4 63.9L838.6 54.7" stroke="#ffa500" stroke-width="2.3" stroke-linecap="round"/>
<text x="852.7" y="65.1" font-family="&quot;Liberation Sans&quot;, sans-serif" fill="#444" stroke="#444" stroke-width="0.25" font-size="16">Price Increase</text>
<path d="M829.4 82.6L838.6 91.8M829.4 91.8L838.6 82.6" stroke="#a52a2a" stroke-width="2.3" stroke-linecap="round"/>
<text x="852.7" y="93" font-family="&quot;Liberation Sans&quot;, sans-serif" fill="#444" stroke="#444" stroke-width="0.25" font-size="16">Price + Volume Increase</text>
<path d="M829.4 110.5L838.6 119.7M829.4 119.7L838.6 110.5" stroke="#ff0000" stroke-width="2.3" stroke-linecap="round"/>
<text x="852.7" y="120.9" font-family="&quot;Liberation Sans&quot;, sans-serif" fill="#444" stroke="#444" stroke-width="0.25" font-size="16">Price + Volume Increase + Volume Decrease</text>
<path d="M834 135.7L838.9 143L834 150.3L829.1 143Z" fill="#0000ff"/>
<text x="852.7" y="148.8" font-family="&quot;Liberation Sans&quot;, sans-serif" fill="#444" stroke="#444" stroke-width="0.25" font-size="16">Pump and Dump</text>
<line x1="822" y1="170.9" x2="846" y2="170.9" stroke="#008000" stroke-width="2.4"/>
<text x="852.7" y="176.7" font-family="&quot;Liberation Sans&quot;, sans-serif" fill="#444" stroke="#444" stroke-width="0.25" font-size="16">12h Rolling Avg.</text>
<path d="M179.3 157.8L190.1 168.6M179.3 168.6L190.1 157.8" stroke="#ffa500" stroke-width="2.2" stroke-linecap="round"/>
<path d="M181.2 196.9L192 207.7M181.2 207.7L192 196.9" stroke="#ffa500" stroke-width="2.2" stroke-linecap="round"/>
<path d="M187.1 197.9L197.9 208.7M187.1 208.7L197.9 197.9" stroke="#ffa500" stroke-width="2.2" stroke-linecap="round"/>
<path d="M184.2 200.8L195 211.6M184.2 211.6L195 200.8" stroke="#ffa500" stroke-width="2.2" stroke-linecap="round"/>
<path d="M183.2 209.6L194 220.4M183.2 220.4L194 209.6" stroke="#ffa500" stroke-width="2.2" stroke-linecap="round"/>
<path d="M391.6 97.6L402.4 108.4M391.6 108.4L402.4 97.6" stroke="#ffa500" stroke-width="2.2" stroke-linecap="round"/>
<path d="M392.6 102.6L403.4 113.4M392.6 113.4L403.4 102.6" stroke="#ffa500" stroke-width="2.2" stroke-linecap="round"/>
<path d="M394.4 122.9L405.2 133.7M394.4 133.7L405.2 122.9" stroke="#ffa500" stroke-width="2.2" stroke-linecap="round"/>
<path d="M396.4 164L407.2 174.8M396.4 174.8L407.2 164" stroke="#ffa500" stroke-width="2.2" stroke-linecap="round"/>
<path d="M441.9 235.9L452.7 246.7M441.9 246.7L452.7 235.9" stroke="#ffa500" stroke-width="2.2" stroke-linecap="round"/>
<path d="M362 320.6L372.8 331.4M362 331.4L372.8 320.6" stroke="#ffa500" stroke-width="2.2" stroke-linecap="round"/>
<path d="M359.6 332L370.4 342.8M359.6 342.8L370.4 332" stroke="#ffa500" stroke-width="2.2" stroke-linecap="round"/>
<path d="M723.6 103.2L734.4 114M723.6 114L734.4 103.2" stroke="#ffa500" stroke-width="2.2" stroke-linecap="round"/>
<path d="M720.6 127.6L731.4 138.4M720.6 138.4L731.4 127.6" stroke="#ffa500" stroke-width="2.2" stroke-linecap="round"/>
<path d="M716.1 127.1L726.9 137.9M716.1 137.9L726.9 127.1" stroke="#ffa500" stroke-width="2.2" stroke-linecap="round"/>
<path d="M1014.5 365.4L1025.3 376.2M1014.5 376.2L1025.3 365.4" stroke="#ffa500" stroke-width="2.2" stroke-linecap="round"/>
<path d="M1015.8 375.9L1026.6 386.7M1015.8 386.7L1026.6 375.9" stroke="#ffa500" stroke-width="2.2" stroke-linecap="round"/>
<path d="M177.5 86.3L188.3 97.1M177.5 97.1L188.3 86.3" stroke="#a52a2a" stroke-width="2.2" stroke-linecap="round"/>
<path d="M388.4 80.1L399.2 90.9M388.4 90.9L399.2 80.1" stroke="#a52a2a" stroke-width="2.2" stroke-linecap="round"/>
<path d="M386 93.2L396.8 104M386 104L396.8 93.2" stroke="#a52a2a" stroke-width="2.2" stroke-linecap="round"/>
<path d="M384 166L394.8 176.8M384 176.8L394.8 166" stroke="#a52a2a" stroke-width="2.2" stroke-linecap="round"/>
<path d="M1011.9 357L1022.7 367.8M1011.9 367.8L1022.7 357" stroke="#a52a2a" stroke-width="2.2" stroke-linecap="round"/>
<path d="M231.1 179.3L241.9 190.1M231.1 190.1L241.9 179.3" stroke="#ff0000" stroke-width="2.2" stroke-linecap="round"/>
<path d="M351.1 332.6L361.9 343.4M351.1 343.4L361.9 332.6" stroke="#ff0000" stroke-width="2.2" stroke-linecap="round"/>
<path d="M635 238.8L645.8 249.6M635 249.6L645.8 238.8" stroke="#ff0000" stroke-width="2.2" stroke-linecap="round"/>
<path d="M722.1 111.6L732.9 122.4M722.1 122.4L732.9 111.6" stroke="#ff0000" stroke-width="2.2" stroke-linecap="round"/>
<path d="M713.8 128.2L724.6 139M713.8 139L724.6 128.2" stroke="#ff0000" stroke-width="2.2" stroke-linecap="round"/>
<path d="M729.7 75.9L740.5 86.7M729.7 86.7L740.5 75.9" stroke="#ff0000" stroke-width="2.2" stroke-linecap="round"/>
<path d="M826.5 191.5L837.3 202.3M826.5 202.3L837.3 191.5" stroke="#ff0000" stroke-width="2.2" stroke-linecap="round"/>
<path d="M236.5 177.1L241.6 184.7L236.5 192.3L231.4 184.7Z" fill="#0000ff"/>
<path d="M356.5 330.4L361.6 338L356.5 345.6L351.4 338Z" fill="#0000ff"/>
<path d="M640.4 236.6L645.5 244.2L640.4 251.8L635.3 244.2Z" fill="#0000ff"/>
<path d="M735.1 73.7L740.2 81.3L735.1 88.9L730 81.3Z" fill="#0000ff"/>
<path d="M831.9 189.3L837 196.9L831.9 204.5L826.8 196.9Z" fill="#0000ff"/>
<rect x="92.8" y="24.5" width="1103.8" height="469.5" fill="none" stroke="#e5e5e5" stroke-width="1"/>
<g stroke="#2b2b2b" stroke-width="1.4">
<line x1="92.8" y1="24.5" x2="92.8" y2="494.7"/>
<line x1="92" y1="494" x2="1196.5" y2="494"/>
<line x1="85.8" y1="68.6" x2="94.8" y2="68.6"/>
<line x1="85.8" y1="132.8" x2="94.8" y2="132.8"/>
<line x1="85.8" y1="196.9" x2="94.8" y2="196.9"/>
<line x1="85.8" y1="261.1" x2="94.8" y2="261.1"/>
<line x1="85.8" y1="325.2" x2="94.8" y2="325.2"/>
<line x1="85.8" y1="389.4" x2="94.8" y2="389.4"/>
<line x1="85.8" y1="453.6" x2="94.8" y2="453.6"/>
<line x1="88.2" y1="30.1" x2="92.8" y2="30.1"/>
<line x1="88.2" y1="42.9" x2="92.8" y2="42.9"/>
<line x1="88.2" y1="55.8" x2="92.8" y2="55.8"/>
<line x1="88.2" y1="81.4" x2="92.8" y2="81.4"/>
<line x1="88.2" y1="94.3" x2="92.8" y2="94.3"/>
<line x1="88.2" y1="107.1" x2="92.8" y2="107.1"/>
<line x1="88.2" y1="119.9" x2="92.8" y2="119.9"/>
<line x1="88.2" y1="145.6" x2="92.8" y2="145.6"/>
<line x1="88.2" y1="158.4" x2="92.8" y2="158.4"/>
<line x1="88.2" y1="171.3" x2="92.8" y2="171.3"/>
<line x1="88.2" y1="184.1" x2="92.8" y2="184.1"/>
<line x1="88.2" y1="209.8" x2="92.8" y2="209.8"/>
<line x1="88.2" y1="222.6" x2="92.8" y2="222.6"/>
<line x1="88.2" y1="235.4" x2="92.8" y2="235.4"/>
<line x1="88.2" y1="248.2" x2="92.8" y2="248.2"/>
<line x1="88.2" y1="273.9" x2="92.8" y2="273.9"/>
<line x1="88.2" y1="286.7" x2="92.8" y2="286.7"/>
<line x1="88.2" y1="299.6" x2="92.8" y2="299.6"/>
<line x1="88.2" y1="312.4" x2="92.8" y2="312.4"/>
<line x1="88.2" y1="338.1" x2="92.8" y2="338.1"/>
<line x1="88.2" y1="350.9" x2="92.8" y2="350.9"/>
<line x1="88.2" y1="363.7" x2="92.8" y2="363.7"/>
<line x1="88.2" y1="376.6" x2="92.8" y2="376.6"/>
<line x1="88.2" y1="402.2" x2="92.8" y2="402.2"/>
<line x1="88.2" y1="415.1" x2="92.8" y2="415.1"/>
<line x1="88.2" y1="427.9" x2="92.8" y2="427.9"/>
<line x1="88.2" y1="440.7" x2="92.8" y2="440.7"/>
<line x1="88.2" y1="466.4" x2="92.8" y2="466.4"/>
<line x1="88.2" y1="479.2" x2="92.8" y2="479.2"/>
<line x1="88.2" y1="492.1" x2="92.8" y2="492.1"/>
<line x1="136.3" y1="492" x2="136.3" y2="501"/>
<line x1="183.6" y1="492" x2="183.6" y2="501"/>
<line x1="231" y1="492" x2="231" y2="501"/>
<line x1="278.3" y1="492" x2="278.3" y2="501"/>
<line x1="325.6" y1="492" x2="325.6" y2="501"/>
<line x1="372.9" y1="492" x2="372.9" y2="501"/>
<line x1="420.3" y1="492" x2="420.3" y2="501"/>
<line x1="467.6" y1="492" x2="467.6" y2="501"/>
<line x1="514.9" y1="492" x2="514.9" y2="501"/>
<line x1="562.3" y1="492" x2="562.3" y2="501"/>
<line x1="609.6" y1="492" x2="609.6" y2="501"/>
<line x1="656.9" y1="492" x2="656.9" y2="501"/>
<line x1="704.3" y1="492" x2="704.3" y2="501"/>
<line x1="751.6" y1="492" x2="751.6" y2="501"/>
<line x1="798.9" y1="492" x2="798.9" y2="501"/>
<line x1="846.2" y1="492" x2="846.2" y2="501"/>
<line x1="893.6" y1="492" x2="893.6" y2="501"/>
<line x1="940.9" y1="492" x2="940.9" y2="501"/>
<line x1="988.2" y1="492" x2="988.2" y2="501"/>
<line x1="1035.6" y1="492" x2="1035.6" y2="501"/>
<line x1="1082.9" y1="492" x2="1082.9" y2="501"/>
<line x1="1130.2" y1="492" x2="1130.2" y2="501"/>
<line x1="1177.6" y1="492" x2="1177.6" y2="501"/>
</g>
<g font-family="&quot;Liberation Sans&quot;, sans-serif" fill="#444" stroke="#444" stroke-width="0.25" font-size="13" text-anchor="end">
<text x="79.2" y="73.8">0.00014</text>
<text x="79.2" y="138">0.000135</text>
<text x="79.2" y="202.1">0.00013</text>
<text x="79.2" y="266.3">0.000125</text>
<text x="79.2" y="330.4">0.00012</text>
<text x="79.2" y="394.6">0.000115</text>
<text x="79.2" y="458.8">0.00011</text>
</g>
<g font-family="&quot;Liberation Sans&quot;, sans-serif" fill="#444" stroke="#444" stroke-width="0.25" font-size="13" text-anchor="end">
<text transform="translate(140 511.1) rotate(-45)">4/21</text>
<text transform="translate(187.3 511.1) rotate(-45)">4/22</text>
<text transform="translate(234.7 511.1) rotate(-45)">4/23</text>
<text transform="translate(282 511.1) rotate(-45)">4/24</text>
<text transform="translate(329.3 511.1) rotate(-45)">4/25</text>
<text transform="translate(376.6 511.1) rotate(-45)">4/26</text>
<text transform="translate(424 511.1) rotate(-45)">4/27</text>
<text transform="translate(471.3 511.1) rotate(-45)">4/28</text>
<text transform="translate(518.6 511.1) rotate(-45)">4/29</text>
<text transform="translate(566 511.1) rotate(-45)">4/30</text>
<text transform="translate(613.3 511.1) rotate(-45)">5/01</text>
<text transform="translate(660.6 511.1) rotate(-45)">5/02</text>
<text transform="translate(708 511.1) rotate(-45)">5/03</text>
<text transform="translate(755.3 511.1) rotate(-45)">5/04</text>
<text transform="translate(802.6 511.1) rotate(-45)">5/05</text>
<text transform="translate(850 511.1) rotate(-45)">5/06</text>
<text transform="translate(897.3 511.1) rotate(-45)">5/07</text>
<text transform="translate(944.6 511.1) rotate(-45)">5/08</text>
<text transform="translate(991.9 511.1) rotate(-45)">5/09</text>
<text transform="translate(1039.3 511.1) rotate(-45)">5/10</text>
<text transform="translate(1086.6 511.1) rotate(-45)">5/11</text>
<text transform="translate(1133.9 511.1) rotate(-45)">5/12</text>
<text transform="translate(1181.3 511.1) rotate(-45)">5/13</text>
</g>
<text transform="translate(14.6 258.6) rotate(-90)" text-anchor="middle" font-family="&quot;Liberation Sans&quot;, sans-serif" font-style="italic" font-size="16" fill="#444">Price</text>
<g stroke="#e6e6e6" stroke-width="1">
<line x1="136.3" y1="537.8" x2="136.3" y2="718"/>
<line x1="183.6" y1="537.8" x2="183.6" y2="718"/>
<line x1="231" y1="537.8" x2="231" y2="718"/>
<line x1="278.3" y1="537.8" x2="278.3" y2="718"/>
<line x1="325.6" y1="537.8" x2="325.6" y2="718"/>
<line x1="372.9" y1="537.8" x2="372.9" y2="718"/>
<line x1="420.3" y1="537.8" x2="420.3" y2="718"/>
<line x1="467.6" y1="537.8" x2="467.6" y2="718"/>
<line x1="514.9" y1="537.8" x2="514.9" y2="718"/>
<line x1="562.3" y1="537.8" x2="562.3" y2="718"/>
<line x1="609.6" y1="537.8" x2="609.6" y2="718"/>
<line x1="656.9" y1="537.8" x2="656.9" y2="718"/>
<line x1="704.3" y1="537.8" x2="704.3" y2="718"/>
<line x1="751.6" y1="537.8" x2="751.6" y2="718"/>
<line x1="798.9" y1="537.8" x2="798.9" y2="718"/>
<line x1="846.2" y1="537.8" x2="846.2" y2="718"/>
<line x1="893.6" y1="537.8" x2="893.6" y2="718"/>
<line x1="940.9" y1="537.8" x2="940.9" y2="718"/>
<line x1="988.2" y1="537.8" x2="988.2" y2="718"/>
<line x1="1035.6" y1="537.8" x2="1035.6" y2="718"/>
<line x1="1082.9" y1="537.8" x2="1082.9" y2="718"/>
<line x1="1130.2" y1="537.8" x2="1130.2" y2="718"/>
<line x1="1177.6" y1="537.8" x2="1177.6" y2="718"/>
<line x1="92.8" y1="709.8" x2="1196.5" y2="709.8"/>
<line x1="92.8" y1="662.3" x2="1196.5" y2="662.3"/>
<line x1="92.8" y1="614.9" x2="1196.5" y2="614.9"/>
<line x1="92.8" y1="567.4" x2="1196.5" y2="567.4"/>
</g>
<path d="M93 700.2 L96.1 697 L98 707.5 L100.2 703.8 L103 705.5 L105.7 708.4 L108.4 704.7 L112 708.4 L114 705.5 L116 707.5 L118 705 L120 707 L121.5 706 L123.5 679.2 L125.3 707.5 L127.3 706.5 L129.2 707 L131.2 708.7 L133.2 706.5 L135.2 706.7 L137.1 707.1 L139.1 705.2 L141.1 706.8 L143 707.3 L145 708 L147 704.8 L149 705.8 L150.9 704.8 L152.9 708.1 L154.9 707.6 L156.8 704.6 L158.8 708.9 L160.8 708.8 L162.8 707.4 L164.7 707.2 L166.7 705.1 L168.7 704.5 L170.6 706.8 L172.6 704.7 L174.6 705.3 L176.6 705.5 L178.5 704.5 L180.5 708 L182.3 612 L184 611 L185.6 700 L187.5 707 L189.5 706.5 L191.5 706.4 L193.6 708.3 L195.6 706.8 L197.6 707.3 L199.6 706.7 L201.7 707.4 L203.7 706.5 L205.7 705.7 L207.7 709 L209.7 709 L211.8 708.3 L213.8 707.7 L215.8 705.9 L217.8 705.5 L219.8 705.7 L221.9 704.7 L223.9 707.9 L225.9 706.2 L227.9 708.3 L230 706.2 L232 708.8 L234 707 L236 690.4 L238 707 L240 708.3 L242 704.4 L244 705.4 L246 708.6 L247.9 706.6 L249.9 708.9 L251.9 706.2 L253.9 704.7 L255.9 707.3 L257.9 708 L259.9 705.6 L261.9 704.8 L263.9 705.9 L265.9 708.8 L267.9 707.9 L269.8 704.9 L271.8 705.5 L273.8 704.9 L275.8 704.7 L277.8 707 L279.8 682 L281.8 707 L283.8 708.1 L285.9 705.2 L287.9 707 L290 706.5 L292 705.3 L294.1 707.8 L296.1 705 L298.2 707.4 L300.2 704.9 L302.2 706.3 L304.3 705.4 L306.3 705.6 L308.4 708.9 L310.4 708.1 L312.5 705.8 L314.5 708.5 L316.6 705.4 L318.6 706.2 L320.7 708.3 L322.7 707 L324.7 685.8 L326.7 707 L328.7 707.4 L330.7 704.9 L332.7 709 L334.7 705.4 L336.7 705.6 L338.7 708 L340.8 705.9 L342.8 705.8 L344.8 704.7 L346.8 704.8 L348.8 707.1 L350.8 705.5 L352.8 707 L354.8 696.8 L356.8 707 L358.9 707.2 L361 706.1 L363.1 706.5 L365.1 708.8 L367.2 706.6 L369.3 707 L371.4 708.4 L373.5 705.2 L375.6 705.1 L377.7 708.6 L379.7 708.2 L381.8 705.5 L383.9 705.3 L386 707.3 L388 706 L390 592 L391.9 545.5 L394 636.6 L396.2 673 L397.8 687.7 L399.4 663.3 L401 684.5 L403.5 694.2 L405.5 700 L407.6 707.3 L409.6 700 L411.6 689.3 L414 704 L417.3 697.5 L420.6 704 L423.9 707.3 L427 702.4 L430 706 L432.2 703.8 L434.3 704.7 L436.5 701.3 L438.7 704.8 L440.8 708.5 L443 707 L445 671.4 L447 707 L449 707.2 L451 706.3 L453 704.9 L455 704.6 L457 708.8 L459 705.5 L461 707.6 L463 705.6 L465 708.2 L467 707.1 L469 705.7 L471 705.2 L473 707.7 L475 704.7 L477 705.5 L479 707 L481 708.3 L483 707.2 L485 705.7 L487 708.6 L489 705.3 L491 704.5 L493 705.6 L495 706.5 L497 704.7 L499 705.2 L501 706.1 L503 707 L505 705 L507 706.1 L509 708.5 L511 708.9 L513 707.4 L515 707.6 L517 707.1 L519 705 L521 704.6 L523 704.5 L525 708.6 L527 707.6 L529 708.8 L531 704.5 L533 707.3 L535 706.6 L537 707.8 L539 705.9 L541 709 L543 707 L545 693 L547 707 L549 704.7 L551 706.9 L553 707.8 L555 708.5 L556.9 707.8 L558.9 707.6 L560.9 708 L562.9 708.6 L564.9 706 L566.9 707.6 L568.9 708.5 L570.9 708.4 L572.8 706.3 L574.8 708 L576.8 708.4 L578.8 707 L580.8 707.3 L582.8 706.2 L584.8 707.1 L586.8 707.2 L588.7 704.8 L590.7 707.3 L592.7 709 L594.7 707 L596.7 683 L598.7 707 L600.7 708.4 L602.7 707.7 L604.6 706.2 L606.6 707.8 L608.6 707.1 L610.6 706.4 L612.6 708.3 L614.5 704.8 L616.5 707.9 L618.5 704.5 L620.5 707.2 L622.5 706.6 L624.4 705.5 L626.4 707.6 L628.4 706.7 L630.4 707.2 L632.4 708.6 L634.3 705.6 L636.3 704.5 L638.3 707 L640.3 680 L642.3 707 L644.3 705.8 L646.3 707.5 L648.3 705.3 L650.3 705.2 L652.3 708.6 L654.3 707.4 L656.2 706.4 L658.2 708.5 L660.2 705.9 L662.2 707.5 L664.2 705.3 L666.2 706.4 L668.2 708.1 L670.2 708.6 L672.2 708.4 L674.2 706.2 L676.2 707.1 L678.2 705.9 L680.2 705 L682.1 706.7 L684.1 708.3 L686.1 708.3 L688.1 707.7 L690.1 708.8 L692.1 705.7 L694.1 705.2 L696.1 706.5 L698.1 705.7 L700.1 703.4 L702.1 704.3 L704.1 705.3 L706.1 704.7 L708 703.9 L710 706.3 L712 706.9 L714 704.5 L716 702.7 L718 702.5 L720 704 L722 700.8 L724 704 L727 695 L729.5 703 L731.5 700 L733.3 705 L735.3 672.8 L737.3 698 L740.5 706.7 L742.8 709 L745 703 L747.5 709 L749.8 704.3 L752 708 L755 705 L758 708 L760 706.4 L762 706.8 L764 708.3 L766 708 L768 707.4 L770 708.5 L771.9 706.7 L773.9 707 L775.9 707.7 L777.9 706.8 L779.9 708.6 L781.9 707.2 L783.9 707 L785.9 706.8 L787.9 708.1 L789.9 707.7 L791.9 708.1 L793.9 708.2 L795.8 708.6 L797.8 708.9 L799.8 708.3 L801.8 707.2 L803.8 707.8 L805.8 707.1 L807.8 706.7 L809.8 707.8 L811.8 708.3 L813.8 707.1 L815.8 707.3 L817.8 707.5 L819.7 708.3 L821.7 707.9 L823.7 708.1 L825.7 708.4 L827.7 707.6 L829.7 707 L831.7 672 L833.7 707 L835.7 708.7 L837.6 708.9 L839.6 707.3 L841.6 709 L843.6 708.5 L845.5 707.4 L847.5 708 L849.5 708.4 L851.4 708.9 L853.4 707.9 L855.4 708.2 L857.3 708.9 L859.3 708.7 L861.3 709 L863.3 708 L865.2 708.4 L867.2 707.5 L869.2 708.5 L871.1 708.7 L873.1 708.4 L875.1 708.5 L877 707.5 L879 708.9 L881 709.1 L883 709.1 L884.9 708.2 L886.9 708.7 L888.9 707.7 L890.8 708.9 L892.8 708.8 L894.8 707.8 L896.7 707.3 L898.7 708 L900.7 708.2 L902.7 708.6 L904.6 708.1 L906.6 707.2 L908.6 708.7 L910.5 707.2 L912.5 708.7 L914.5 707.4 L916.4 707.8 L918.4 708.7 L920.4 707.4 L922.4 707.4 L924.3 708.1 L926.3 708.5 L928.3 708.8 L930.2 708.5 L932.2 709 L934.2 708.1 L936.1 709 L938.1 707.3 L940.1 707.5 L942.1 708.2 L944 707.7 L946 708.6 L948 708.4 L949.9 708.1 L951.9 708.8 L953.9 708.2 L955.8 707.7 L957.8 707.9 L959.8 708.8 L961.8 708.9 L963.7 707.5 L965.7 708.8 L967.7 709 L969.6 708.1 L971.6 708.2 L973.6 707.5 L975.5 708.2 L977.5 708.1 L979.5 708.3 L981.5 707.2 L983.4 709 L985.4 708.1 L987.4 707.9 L989.3 708.7 L991.3 708.2 L993.3 708.1 L995.2 708.5 L997.2 707.2 L999.2 708.2 L1001.2 707.9 L1003.1 709 L1005.1 708.9 L1007.1 707.6 L1009 708 L1011 707.4 L1013 708 L1014.9 708.7 L1016.9 708.9 L1018.9 708.1 L1020.9 707.7 L1022.8 707.5 L1024.8 708.3 L1026.8 709 L1028.7 707.4 L1030.7 708.7 L1032.7 707.1" fill="none" stroke="#1f77b4" stroke-width="2.0" stroke-linejoin="round" stroke-linecap="round" />
<path d="M110.3 704.7 L115 704.3 L125 705.5 L144.7 705.5 L165 706.5 L180 707.7 L182.5 707.7 L184 699.5 L186 698.5 L205 698 L207 706 L230 705.5 L260 705.5 L280 705 L300 705 L330 705 L342 703 L353 705 L360 704 L378 705 L384 707.7 L389.5 696.8 L393 678.5 L398.6 671 L404 665.8 L411.4 664.9 L413 665 L415 682 L418.7 693 L426 701.4 L435 702 L462.5 701.4 L480 706 L500 706.7 L545 702.5 L560 705 L595 702.5 L620 705.8 L640 706.7 L660 706.7 L700 706.7 L718.3 703.2 L727.7 698.5 L735.8 698 L741 698.5 L747.5 700.8 L755.7 703.2 L761.5 706.7 L800 708.4 L830 707 L834 704.5 L860 706.5 L900 707.5 L1033 708.3" fill="none" stroke="#008000" stroke-width="2.3" stroke-linejoin="round" stroke-linecap="round" />
<rect x="809.3" y="550" width="375.7" height="130.7" fill="#fff" fill-opacity="0.95" stroke="#e5e5e5" stroke-width="1"/>
<path d="M829.4 567.7L838.6 576.9M829.4 576.9L838.6 567.7" stroke="#800080" stroke-width="2.3" stroke-linecap="round"/>
<text x="852.7" y="578.1" font-family="&quot;Liberation Sans&quot;, sans-serif" fill="#444" stroke="#444" stroke-width="0.25" font-size="16">Volume Increase</text>
<path d="M829.4 595.6L838.6 604.8M829.4 604.8L838.6 595.6" stroke="#ff00ff" stroke-width="2.3" stroke-linecap="round"/>
<text x="852.7" y="606" font-family="&quot;Liberation Sans&quot;, sans-serif" fill="#444" stroke="#444" stroke-width="0.25" font-size="16">Price + Volume Increase</text>
<path d="M829.4 623.5L838.6 632.7M829.4 632.7L838.6 623.5" stroke="#ff0000" stroke-width="2.3" stroke-linecap="round"/>
<text x="852.7" y="633.9" font-family="&quot;Liberation Sans&quot;, sans-serif" fill="#444" stroke="#444" stroke-width="0.25" font-size="16">Price + Volume Increase + Volume Decrease</text>
<line x1="822" y1="656" x2="846" y2="656" stroke="#008000" stroke-width="2.4"/>
<text x="852.7" y="661.8" font-family="&quot;Liberation Sans&quot;, sans-serif" fill="#444" stroke="#444" stroke-width="0.25" font-size="16">12h Rolling Avg.</text>
<path d="M118.4 683.9L129.2 694.7M118.4 694.7L129.2 683.9" stroke="#800080" stroke-width="2.2" stroke-linecap="round"/>
<path d="M148.5 696L159.3 706.8M148.5 706.8L159.3 696" stroke="#800080" stroke-width="2.2" stroke-linecap="round"/>
<path d="M151.6 699.6L162.4 710.4M151.6 710.4L162.4 699.6" stroke="#800080" stroke-width="2.2" stroke-linecap="round"/>
<path d="M163.1 700.6L173.9 711.4M163.1 711.4L173.9 700.6" stroke="#800080" stroke-width="2.2" stroke-linecap="round"/>
<path d="M168.6 700.6L179.4 711.4M168.6 711.4L179.4 700.6" stroke="#800080" stroke-width="2.2" stroke-linecap="round"/>
<path d="M202.3 698.6L213.1 709.4M202.3 709.4L213.1 698.6" stroke="#800080" stroke-width="2.2" stroke-linecap="round"/>
<path d="M206.6 700.6L217.4 711.4M206.6 711.4L217.4 700.6" stroke="#800080" stroke-width="2.2" stroke-linecap="round"/>
<path d="M216 695L226.8 705.8M216 705.8L226.8 695" stroke="#800080" stroke-width="2.2" stroke-linecap="round"/>
<path d="M228.6 700.6L239.4 711.4M228.6 711.4L239.4 700.6" stroke="#800080" stroke-width="2.2" stroke-linecap="round"/>
<path d="M239.6 696L250.4 706.8M239.6 706.8L250.4 696" stroke="#800080" stroke-width="2.2" stroke-linecap="round"/>
<path d="M244.6 698.6L255.4 709.4M244.6 709.4L255.4 698.6" stroke="#800080" stroke-width="2.2" stroke-linecap="round"/>
<path d="M253.4 695L264.2 705.8M253.4 705.8L264.2 695" stroke="#800080" stroke-width="2.2" stroke-linecap="round"/>
<path d="M273.1 683.4L283.9 694.2M273.1 694.2L283.9 683.4" stroke="#800080" stroke-width="2.2" stroke-linecap="round"/>
<path d="M272.1 694.6L282.9 705.4M272.1 705.4L282.9 694.6" stroke="#800080" stroke-width="2.2" stroke-linecap="round"/>
<path d="M287.1 692.6L297.9 703.4M287.1 703.4L297.9 692.6" stroke="#800080" stroke-width="2.2" stroke-linecap="round"/>
<path d="M297.4 698.6L308.2 709.4M297.4 709.4L308.2 698.6" stroke="#800080" stroke-width="2.2" stroke-linecap="round"/>
<path d="M311.1 699.6L321.9 710.4M311.1 710.4L321.9 699.6" stroke="#800080" stroke-width="2.2" stroke-linecap="round"/>
<path d="M315.6 696.9L326.4 707.7M315.6 707.7L326.4 696.9" stroke="#800080" stroke-width="2.2" stroke-linecap="round"/>
<path d="M319.3 684.1L330.1 694.9M319.3 694.9L330.1 684.1" stroke="#800080" stroke-width="2.2" stroke-linecap="round"/>
<path d="M323.9 691.4L334.7 702.2M323.9 702.2L334.7 691.4" stroke="#800080" stroke-width="2.2" stroke-linecap="round"/>
<path d="M329.3 693.2L340.1 704M329.3 704L340.1 693.2" stroke="#800080" stroke-width="2.2" stroke-linecap="round"/>
<path d="M380.4 691.4L391.2 702.2M380.4 702.2L391.2 691.4" stroke="#800080" stroke-width="2.2" stroke-linecap="round"/>
<path d="M382.3 696.9L393.1 707.7M382.3 707.7L393.1 696.9" stroke="#800080" stroke-width="2.2" stroke-linecap="round"/>
<path d="M428.6 695.6L439.4 706.4M428.6 706.4L439.4 695.6" stroke="#800080" stroke-width="2.2" stroke-linecap="round"/>
<path d="M434.6 695.1L445.4 705.9M434.6 705.9L445.4 695.1" stroke="#800080" stroke-width="2.2" stroke-linecap="round"/>
<path d="M439.7 676.8L450.5 687.6M439.7 687.6L450.5 676.8" stroke="#800080" stroke-width="2.2" stroke-linecap="round"/>
<path d="M444.3 691.4L455.1 702.2M444.3 702.2L455.1 691.4" stroke="#800080" stroke-width="2.2" stroke-linecap="round"/>
<path d="M460.6 694.1L471.4 704.9M460.6 704.9L471.4 694.1" stroke="#800080" stroke-width="2.2" stroke-linecap="round"/>
<path d="M477.1 700.6L487.9 711.4M477.1 711.4L487.9 700.6" stroke="#800080" stroke-width="2.2" stroke-linecap="round"/>
<path d="M492.1 697.1L502.9 707.9M492.1 707.9L502.9 697.1" stroke="#800080" stroke-width="2.2" stroke-linecap="round"/>
<path d="M508.6 697.6L519.4 708.4M508.6 708.4L519.4 697.6" stroke="#800080" stroke-width="2.2" stroke-linecap="round"/>
<path d="M512.6 699.6L523.4 710.4M512.6 710.4L523.4 699.6" stroke="#800080" stroke-width="2.2" stroke-linecap="round"/>
<path d="M515.6 694.6L526.4 705.4M515.6 705.4L526.4 694.6" stroke="#800080" stroke-width="2.2" stroke-linecap="round"/>
<path d="M519.6 697.6L530.4 708.4M519.6 708.4L530.4 697.6" stroke="#800080" stroke-width="2.2" stroke-linecap="round"/>
<path d="M522.6 692.6L533.4 703.4M522.6 703.4L533.4 692.6" stroke="#800080" stroke-width="2.2" stroke-linecap="round"/>
<path d="M527.6 691.6L538.4 702.4M527.6 702.4L538.4 691.6" stroke="#800080" stroke-width="2.2" stroke-linecap="round"/>
<path d="M531.6 694.6L542.4 705.4M531.6 705.4L542.4 694.6" stroke="#800080" stroke-width="2.2" stroke-linecap="round"/>
<path d="M534.6 692.6L545.4 703.4M534.6 703.4L545.4 692.6" stroke="#800080" stroke-width="2.2" stroke-linecap="round"/>
<path d="M540.4 690.4L551.2 701.2M540.4 701.2L551.2 690.4" stroke="#800080" stroke-width="2.2" stroke-linecap="round"/>
<path d="M562.6 697.6L573.4 708.4M562.6 708.4L573.4 697.6" stroke="#800080" stroke-width="2.2" stroke-linecap="round"/>
<path d="M566.6 700.6L577.4 711.4M566.6 711.4L577.4 700.6" stroke="#800080" stroke-width="2.2" stroke-linecap="round"/>
<path d="M569.6 695.6L580.4 706.4M569.6 706.4L580.4 695.6" stroke="#800080" stroke-width="2.2" stroke-linecap="round"/>
<path d="M572.6 698.6L583.4 709.4M572.6 709.4L583.4 698.6" stroke="#800080" stroke-width="2.2" stroke-linecap="round"/>
<path d="M575.6 696.6L586.4 707.4M575.6 707.4L586.4 696.6" stroke="#800080" stroke-width="2.2" stroke-linecap="round"/>
<path d="M578.6 699.6L589.4 710.4M578.6 710.4L589.4 699.6" stroke="#800080" stroke-width="2.2" stroke-linecap="round"/>
<path d="M581.6 695.6L592.4 706.4M581.6 706.4L592.4 695.6" stroke="#800080" stroke-width="2.2" stroke-linecap="round"/>
<path d="M584.6 697.6L595.4 708.4M584.6 708.4L595.4 697.6" stroke="#800080" stroke-width="2.2" stroke-linecap="round"/>
<path d="M591.3 686.3L602.1 697.1M591.3 697.1L602.1 686.3" stroke="#800080" stroke-width="2.2" stroke-linecap="round"/>
<path d="M627.9 700.4L638.7 711.2M627.9 711.2L638.7 700.4" stroke="#800080" stroke-width="2.2" stroke-linecap="round"/>
<path d="M656.3 698.6L667.1 709.4M656.3 709.4L667.1 698.6" stroke="#800080" stroke-width="2.2" stroke-linecap="round"/>
<path d="M656.6 698.9L667.4 709.7M656.6 709.7L667.4 698.9" stroke="#800080" stroke-width="2.2" stroke-linecap="round"/>
<path d="M660.6 698.9L671.4 709.7M660.6 709.7L671.4 698.9" stroke="#800080" stroke-width="2.2" stroke-linecap="round"/>
<path d="M666.6 698.9L677.4 709.7M666.6 709.7L677.4 698.9" stroke="#800080" stroke-width="2.2" stroke-linecap="round"/>
<path d="M686.1 700.6L696.9 711.4M686.1 711.4L696.9 700.6" stroke="#800080" stroke-width="2.2" stroke-linecap="round"/>
<path d="M701.3 698.9L712.1 709.7M701.3 709.7L712.1 698.9" stroke="#800080" stroke-width="2.2" stroke-linecap="round"/>
<path d="M703.6 683.8L714.4 694.6M703.6 694.6L714.4 683.8" stroke="#800080" stroke-width="2.2" stroke-linecap="round"/>
<path d="M705.9 696.6L716.7 707.4M705.9 707.4L716.7 696.6" stroke="#800080" stroke-width="2.2" stroke-linecap="round"/>
<path d="M708.3 687.3L719.1 698.1M708.3 698.1L719.1 687.3" stroke="#800080" stroke-width="2.2" stroke-linecap="round"/>
<path d="M711.8 694.3L722.6 705.1M711.8 705.1L722.6 694.3" stroke="#800080" stroke-width="2.2" stroke-linecap="round"/>
<path d="M713.6 690.6L724.4 701.4M713.6 701.4L724.4 690.6" stroke="#800080" stroke-width="2.2" stroke-linecap="round"/>
<path d="M794.6 701.1L805.4 711.9M794.6 711.9L805.4 701.1" stroke="#800080" stroke-width="2.2" stroke-linecap="round"/>
<path d="M802.6 701.1L813.4 711.9M802.6 711.9L813.4 701.1" stroke="#800080" stroke-width="2.2" stroke-linecap="round"/>
<path d="M809.6 700.6L820.4 711.4M809.6 711.4L820.4 700.6" stroke="#800080" stroke-width="2.2" stroke-linecap="round"/>
<path d="M816.6 700.6L827.4 711.4M816.6 711.4L827.4 700.6" stroke="#800080" stroke-width="2.2" stroke-linecap="round"/>
<path d="M821.6 700.1L832.4 710.9M821.6 710.9L832.4 700.1" stroke="#800080" stroke-width="2.2" stroke-linecap="round"/>
<path d="M826.3 701.4L837.1 712.2M826.3 712.2L837.1 701.4" stroke="#800080" stroke-width="2.2" stroke-linecap="round"/>
<path d="M850.9 702.2L861.7 713M850.9 713L861.7 702.2" stroke="#800080" stroke-width="2.2" stroke-linecap="round"/>
<path d="M882.6 702.2L893.4 713M882.6 713L893.4 702.2" stroke="#800080" stroke-width="2.2" stroke-linecap="round"/>
<path d="M886.6 701.6L897.4 712.4M886.6 712.4L897.4 701.6" stroke="#800080" stroke-width="2.2" stroke-linecap="round"/>
<path d="M890.6 702.2L901.4 713M890.6 713L901.4 702.2" stroke="#800080" stroke-width="2.2" stroke-linecap="round"/>
<path d="M894.6 701.6L905.4 712.4M894.6 712.4L905.4 701.6" stroke="#800080" stroke-width="2.2" stroke-linecap="round"/>
<path d="M899.6 702.2L910.4 713M899.6 713L910.4 702.2" stroke="#800080" stroke-width="2.2" stroke-linecap="round"/>
<path d="M903.6 700.6L914.4 711.4M903.6 711.4L914.4 700.6" stroke="#800080" stroke-width="2.2" stroke-linecap="round"/>
<path d="M907.6 699.6L918.4 710.4M907.6 710.4L918.4 699.6" stroke="#800080" stroke-width="2.2" stroke-linecap="round"/>
<path d="M911.6 701.6L922.4 712.4M911.6 712.4L922.4 701.6" stroke="#800080" stroke-width="2.2" stroke-linecap="round"/>
<path d="M915.6 699.6L926.4 710.4M915.6 710.4L926.4 699.6" stroke="#800080" stroke-width="2.2" stroke-linecap="round"/>
<path d="M919.6 700.6L930.4 711.4M919.6 711.4L930.4 700.6" stroke="#800080" stroke-width="2.2" stroke-linecap="round"/>
<path d="M923.6 699.6L934.4 710.4M923.6 710.4L934.4 699.6" stroke="#800080" stroke-width="2.2" stroke-linecap="round"/>
<path d="M929.6 701.1L940.4 711.9M929.6 711.9L940.4 701.1" stroke="#800080" stroke-width="2.2" stroke-linecap="round"/>
<path d="M950.6 701.6L961.4 712.4M950.6 712.4L961.4 701.6" stroke="#800080" stroke-width="2.2" stroke-linecap="round"/>
<path d="M956.6 701.1L967.4 711.9M956.6 711.9L967.4 701.1" stroke="#800080" stroke-width="2.2" stroke-linecap="round"/>
<path d="M962.6 701.6L973.4 712.4M962.6 712.4L973.4 701.6" stroke="#800080" stroke-width="2.2" stroke-linecap="round"/>
<path d="M967.6 701.1L978.4 711.9M967.6 711.9L978.4 701.1" stroke="#800080" stroke-width="2.2" stroke-linecap="round"/>
<path d="M972.6 701.6L983.4 712.4M972.6 712.4L983.4 701.6" stroke="#800080" stroke-width="2.2" stroke-linecap="round"/>
<path d="M978.6 700.6L989.4 711.4M978.6 711.4L989.4 700.6" stroke="#800080" stroke-width="2.2" stroke-linecap="round"/>
<path d="M984.6 701.4L995.4 712.2M984.6 712.2L995.4 701.4" stroke="#800080" stroke-width="2.2" stroke-linecap="round"/>
<path d="M989.6 700.6L1000.4 711.4M989.6 711.4L1000.4 700.6" stroke="#800080" stroke-width="2.2" stroke-linecap="round"/>
<path d="M994.6 701.6L1005.4 712.4M994.6 712.4L1005.4 701.6" stroke="#800080" stroke-width="2.2" stroke-linecap="round"/>
<path d="M1004.6 702.2L1015.4 713M1004.6 713L1015.4 702.2" stroke="#800080" stroke-width="2.2" stroke-linecap="round"/>
<path d="M177.6 604.6L188.4 615.4M177.6 615.4L188.4 604.6" stroke="#ff00ff" stroke-width="2.2" stroke-linecap="round"/>
<path d="M384.7 586.6L395.5 597.4M384.7 597.4L395.5 586.6" stroke="#ff00ff" stroke-width="2.2" stroke-linecap="round"/>
<path d="M386.5 540.1L397.3 550.9M386.5 550.9L397.3 540.1" stroke="#ff00ff" stroke-width="2.2" stroke-linecap="round"/>
<path d="M388.6 631.2L399.4 642M388.6 642L399.4 631.2" stroke="#ff00ff" stroke-width="2.2" stroke-linecap="round"/>
<path d="M1012 698.6L1022.8 709.4M1012 709.4L1022.8 698.6" stroke="#ff00ff" stroke-width="2.2" stroke-linecap="round"/>
<path d="M230.6 690.6L241.4 701.4M230.6 701.4L241.4 690.6" stroke="#ff0000" stroke-width="2.2" stroke-linecap="round"/>
<path d="M350.9 689.2L361.7 700M350.9 700L361.7 689.2" stroke="#ff0000" stroke-width="2.2" stroke-linecap="round"/>
<path d="M634.9 683.6L645.7 694.4M634.9 694.4L645.7 683.6" stroke="#ff0000" stroke-width="2.2" stroke-linecap="round"/>
<path d="M714.1 684.9L724.9 695.7M714.1 695.7L724.9 684.9" stroke="#ff0000" stroke-width="2.2" stroke-linecap="round"/>
<path d="M721.6 688.4L732.4 699.2M721.6 699.2L732.4 688.4" stroke="#ff0000" stroke-width="2.2" stroke-linecap="round"/>
<path d="M729.9 676.8L740.7 687.6M729.9 687.6L740.7 676.8" stroke="#ff0000" stroke-width="2.2" stroke-linecap="round"/>
<path d="M826.3 665.3L837.1 676.1M826.3 676.1L837.1 665.3" stroke="#ff0000" stroke-width="2.2" stroke-linecap="round"/>
<rect x="92.8" y="537.8" width="1103.8" height="180.2" fill="none" stroke="#e5e5e5" stroke-width="1"/>
<g stroke="#2b2b2b" stroke-width="1.4">
<line x1="92.8" y1="537.8" x2="92.8" y2="718.7"/>
<line x1="92" y1="718" x2="1196.5" y2="718"/>
<line x1="85.8" y1="709.8" x2="94.8" y2="709.8"/>
<line x1="85.8" y1="662.3" x2="94.8" y2="662.3"/>
<line x1="85.8" y1="614.9" x2="94.8" y2="614.9"/>
<line x1="85.8" y1="567.4" x2="94.8" y2="567.4"/>
<line x1="88.2" y1="700.3" x2="92.8" y2="700.3"/>
<line x1="88.2" y1="690.8" x2="92.8" y2="690.8"/>
<line x1="88.2" y1="681.3" x2="92.8" y2="681.3"/>
<line x1="88.2" y1="671.8" x2="92.8" y2="671.8"/>
<line x1="88.2" y1="652.9" x2="92.8" y2="652.9"/>
<line x1="88.2" y1="643.4" x2="92.8" y2="643.4"/>
<line x1="88.2" y1="633.9" x2="92.8" y2="633.9"/>
<line x1="88.2" y1="624.4" x2="92.8" y2="624.4"/>
<line x1="88.2" y1="605.4" x2="92.8" y2="605.4"/>
<line x1="88.2" y1="595.9" x2="92.8" y2="595.9"/>
<line x1="88.2" y1="586.4" x2="92.8" y2="586.4"/>
<line x1="88.2" y1="576.9" x2="92.8" y2="576.9"/>
<line x1="88.2" y1="558" x2="92.8" y2="558"/>
<line x1="88.2" y1="548.5" x2="92.8" y2="548.5"/>
<line x1="88.2" y1="539" x2="92.8" y2="539"/>
<line x1="136.3" y1="716" x2="136.3" y2="725"/>
<line x1="183.6" y1="716" x2="183.6" y2="725"/>
<line x1="231" y1="716" x2="231" y2="725"/>
<line x1="278.3" y1="716" x2="278.3" y2="725"/>
<line x1="325.6" y1="716" x2="325.6" y2="725"/>
<line x1="372.9" y1="716" x2="372.9" y2="725"/>
<line x1="420.3" y1="716" x2="420.3" y2="725"/>
<line x1="467.6" y1="716" x2="467.6" y2="725"/>
<line x1="514.9" y1="716" x2="514.9" y2="725"/>
<line x1="562.3" y1="716" x2="562.3" y2="725"/>
<line x1="609.6" y1="716" x2="609.6" y2="725"/>
<line x1="656.9" y1="716" x2="656.9" y2="725"/>
<line x1="704.3" y1="716" x2="704.3" y2="725"/>
<line x1="751.6" y1="716" x2="751.6" y2="725"/>
<line x1="798.9" y1="716" x2="798.9" y2="725"/>
<line x1="846.2" y1="716" x2="846.2" y2="725"/>
<line x1="893.6" y1="716" x2="893.6" y2="725"/>
<line x1="940.9" y1="716" x2="940.9" y2="725"/>
<line x1="988.2" y1="716" x2="988.2" y2="725"/>
<line x1="1035.6" y1="716" x2="1035.6" y2="725"/>
<line x1="1082.9" y1="716" x2="1082.9" y2="725"/>
<line x1="1130.2" y1="716" x2="1130.2" y2="725"/>
<line x1="1177.6" y1="716" x2="1177.6" y2="725"/>
</g>
<g font-family="&quot;Liberation Sans&quot;, sans-serif" fill="#444" stroke="#444" stroke-width="0.25" font-size="13" text-anchor="end">
<text x="79.2" y="715">0</text>
<text x="79.2" y="667.5">500000</text>
<text x="79.2" y="620.1">1000000</text>
<text x="79.2" y="572.6">1500000</text>
</g>
<g font-family="&quot;Liberation Sans&quot;, sans-serif" fill="#444" stroke="#444" stroke-width="0.25" font-size="13" text-anchor="middle">
<text x="136.3" y="741.2">4/21</text>
<text x="183.6" y="741.2">4/22</text>
<text x="231" y="741.2">4/23</text>
<text x="278.3" y="741.2">4/24</text>
<text x="325.6" y="741.2">4/25</text>
<text x="372.9" y="741.2">4/26</text>
<text x="420.3" y="741.2">4/27</text>
<text x="467.6" y="741.2">4/28</text>
<text x="514.9" y="741.2">4/29</text>
<text x="562.3" y="741.2">4/30</text>
<text x="609.6" y="741.2">5/01</text>
<text x="656.9" y="741.2">5/02</text>
<text x="704.3" y="741.2">5/03</text>
<text x="751.6" y="741.2">5/04</text>
<text x="798.9" y="741.2">5/05</text>
<text x="846.2" y="741.2">5/06</text>
<text x="893.6" y="741.2">5/07</text>
<text x="940.9" y="741.2">5/08</text>
<text x="988.2" y="741.2">5/09</text>
<text x="1035.6" y="741.2">5/10</text>
<text x="1082.9" y="741.2">5/11</text>
<text x="1130.2" y="741.2">5/12</text>
<text x="1177.6" y="741.2">5/13</text>
</g>
<text transform="translate(17.7 625.7) rotate(-90)" text-anchor="middle" font-family="&quot;Liberation Sans&quot;, sans-serif" font-style="italic" font-size="16" fill="#444">Volume</text>
<text x="645.6" y="763.5" text-anchor="middle" font-family="&quot;Liberation Sans&quot;, sans-serif" font-style="italic" font-size="16" fill="#444">Date</text>
</svg></body></html>
